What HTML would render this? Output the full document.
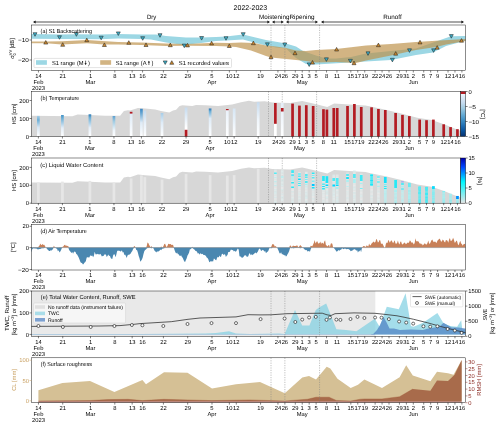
<!DOCTYPE html>
<html><head><meta charset="utf-8"><style>
html,body{margin:0;padding:0;background:#fff;width:500px;height:427px;overflow:hidden}
svg{display:block;will-change:transform}
text{font-family:"Liberation Sans", sans-serif;text-rendering:geometricPrecision}
</style></head><body>
<svg width="500" height="427" viewBox="0 0 500 427" font-family='"Liberation Sans", sans-serif'>
<defs><linearGradient id="g1" x1="0" y1="0" x2="0" y2="1"><stop offset="0" stop-color="#a6cde6"/><stop offset="0.2" stop-color="#6baed6"/><stop offset="0.55" stop-color="#d6e6f4"/><stop offset="1" stop-color="#ffffff"/></linearGradient><linearGradient id="g2" x1="0" y1="0" x2="0" y2="1"><stop offset="0" stop-color="#4292c6"/><stop offset="0.15" stop-color="#6baed6"/><stop offset="0.6" stop-color="#e4eef8"/><stop offset="1" stop-color="#ffffff"/></linearGradient><linearGradient id="g3" x1="0" y1="0" x2="0" y2="1"><stop offset="0" stop-color="#2c7bb6"/><stop offset="0.15" stop-color="#6baed6"/><stop offset="0.6" stop-color="#e4eef8"/><stop offset="1" stop-color="#ffffff"/></linearGradient><linearGradient id="g4" x1="0" y1="0" x2="0" y2="1"><stop offset="0" stop-color="#5a9fd0"/><stop offset="0.25" stop-color="#9ecae1"/><stop offset="0.7" stop-color="#eef5fb"/><stop offset="1" stop-color="#ffffff"/></linearGradient><linearGradient id="g5" x1="0" y1="0" x2="0" y2="1"><stop offset="0" stop-color="#dbe9f6"/><stop offset="1" stop-color="#ffffff"/></linearGradient><linearGradient id="g6" x1="0" y1="0" x2="0" y2="1"><stop offset="0" stop-color="#3b87c4"/><stop offset="0.12" stop-color="#5a9fd0"/><stop offset="0.5" stop-color="#deebf7"/><stop offset="1" stop-color="#ffffff"/></linearGradient><linearGradient id="g7" x1="0" y1="0" x2="0" y2="1"><stop offset="0" stop-color="#c6dbef"/><stop offset="0.5" stop-color="#e8f1fa"/><stop offset="1" stop-color="#ffffff"/></linearGradient><linearGradient id="g8" x1="0" y1="0" x2="0" y2="1"><stop offset="0" stop-color="#a6cde8"/><stop offset="0.4" stop-color="#deebf7"/><stop offset="1" stop-color="#ffffff"/></linearGradient><linearGradient id="g9" x1="0" y1="0" x2="0" y2="1"><stop offset="0" stop-color="#c6dbef"/><stop offset="0.7" stop-color="#ffffff"/><stop offset="1" stop-color="#ffffff"/></linearGradient><linearGradient id="g10" x1="0" y1="0" x2="0" y2="1"><stop offset="0" stop-color="#2171b5"/><stop offset="0.1" stop-color="#6baed6"/><stop offset="0.35" stop-color="#deebf7"/><stop offset="1" stop-color="#ffffff"/></linearGradient><linearGradient id="g11" x1="0" y1="0" x2="0" y2="1"><stop offset="0" stop-color="#e8f1fa"/><stop offset="1" stop-color="#ffffff"/></linearGradient><linearGradient id="g12" x1="0" y1="0" x2="0" y2="1"><stop offset="0" stop-color="#d6e6f4"/><stop offset="1" stop-color="#ffffff"/></linearGradient><linearGradient id="g13" x1="0" y1="0" x2="0" y2="1"><stop offset="0" stop-color="#c6dbef"/><stop offset="0.5" stop-color="#eef5fb"/><stop offset="1" stop-color="#ffffff"/></linearGradient><linearGradient id="g14" x1="0" y1="0" x2="0" y2="1"><stop offset="0" stop-color="#ffffff"/><stop offset="1" stop-color="#ffffff"/></linearGradient><linearGradient id="g15" x1="0" y1="0" x2="0" y2="1"><stop offset="0" stop-color="#e4eef8"/><stop offset="1" stop-color="#ffffff"/></linearGradient><linearGradient id="g16" x1="0" y1="0" x2="0" y2="1"><stop offset="0" stop-color="#f7fbff"/><stop offset="0.125" stop-color="#deebf7"/><stop offset="0.25" stop-color="#c6dbef"/><stop offset="0.375" stop-color="#9ecae1"/><stop offset="0.5" stop-color="#6baed6"/><stop offset="0.625" stop-color="#4292c6"/><stop offset="0.75" stop-color="#2171b5"/><stop offset="0.875" stop-color="#08519c"/><stop offset="1" stop-color="#08306b"/></linearGradient><linearGradient id="g17" x1="0" y1="0" x2="0" y2="1"><stop offset="0" stop-color="#0000aa"/><stop offset="0.2" stop-color="#0046ff"/><stop offset="0.53" stop-color="#00faff"/><stop offset="1" stop-color="#e4e4e4"/></linearGradient></defs>
<rect width="500" height="427" fill="#fff"/>
<text x="250.4" y="10.2" font-size="7" text-anchor="middle" textLength="33.6" lengthAdjust="spacingAndGlyphs">2022-2023</text>
<line x1="34.50" y1="22.0" x2="268.50" y2="22.0" stroke="#8a8a8a" stroke-width="1.3"/>
<polygon points="33.00,22.0 35.60,20.6 35.60,23.4" fill="#111"/>
<polygon points="270.00,22.0 267.40,20.6 267.40,23.4" fill="#111"/>
<line x1="273.50" y1="22.0" x2="282.30" y2="22.0" stroke="#8a8a8a" stroke-width="1.3"/>
<polygon points="272.00,22.0 274.60,20.6 274.60,23.4" fill="#111"/>
<polygon points="283.80,22.0 281.20,20.6 281.20,23.4" fill="#111"/>
<line x1="287.50" y1="22.0" x2="316.50" y2="22.0" stroke="#8a8a8a" stroke-width="1.3"/>
<polygon points="286.00,22.0 288.60,20.6 288.60,23.4" fill="#111"/>
<polygon points="318.00,22.0 315.40,20.6 315.40,23.4" fill="#111"/>
<line x1="322.50" y1="22.0" x2="462.50" y2="22.0" stroke="#8a8a8a" stroke-width="1.3"/>
<polygon points="321.00,22.0 323.60,20.6 323.60,23.4" fill="#111"/>
<polygon points="464.00,22.0 461.40,20.6 461.40,23.4" fill="#111"/>
<text x="151.6" y="18.7" font-size="6.2" text-anchor="middle" textLength="9.3" lengthAdjust="spacingAndGlyphs">Dry</text>
<text x="274.2" y="18.6" font-size="6.3" text-anchor="middle" textLength="30.4" lengthAdjust="spacingAndGlyphs">Moistening</text>
<text x="302.0" y="18.6" font-size="6.3" text-anchor="middle" textLength="25.2" lengthAdjust="spacingAndGlyphs">Ripening</text>
<text x="392.5" y="18.6" font-size="6.3" text-anchor="middle">Runoff</text>
<polygon points="31.50,34.00 60.00,34.60 77.00,34.20 100.00,34.60 118.00,34.00 142.00,34.50 156.00,34.50 166.00,36.00 186.00,37.50 201.00,37.50 216.00,37.00 226.00,36.50 243.00,34.50 266.00,40.00 286.00,43.50 296.00,46.50 303.00,51.00 316.00,55.50 326.00,58.50 336.00,58.50 351.00,57.00 366.00,53.50 391.00,51.00 416.00,48.50 451.00,36.30 465.40,36.00 465.40,40.80 446.00,46.00 433.00,52.50 416.00,55.00 391.00,60.00 366.00,61.50 316.00,64.50 306.00,64.00 296.00,58.00 286.00,48.50 276.00,47.50 266.00,45.50 254.00,42.50 243.00,39.50 226.00,40.50 216.00,41.00 201.00,43.00 184.00,45.00 166.00,42.50 151.00,39.50 142.00,39.00 118.00,38.60 100.00,39.20 77.00,39.00 60.00,39.00 31.50,38.80" fill="#9cd7e4" />
<polygon points="31.50,41.60 46.00,41.40 62.00,41.20 87.00,40.00 118.00,42.00 141.00,42.50 166.00,43.50 186.00,44.00 216.00,42.80 229.00,43.00 241.00,42.50 254.00,43.00 266.00,45.50 276.00,46.50 286.00,48.00 296.00,50.50 306.00,51.00 316.00,50.00 336.00,49.00 366.00,45.50 391.00,44.00 416.00,42.00 440.00,40.50 465.40,39.00 465.40,41.00 446.00,44.50 436.00,47.00 416.00,50.00 391.00,55.50 366.00,60.50 356.00,63.00 336.00,62.00 316.00,62.50 306.00,61.00 296.00,60.00 286.00,59.00 271.00,57.50 266.00,56.00 251.00,50.50 236.00,47.00 229.00,46.50 216.00,46.00 186.00,45.80 166.00,46.00 141.00,45.00 118.00,44.50 104.00,44.50 87.00,43.20 62.00,44.40 46.00,43.30 31.50,43.20" fill="rgb(189,145,72)" fill-opacity="0.68"/>
<line x1="271.00" y1="25.00" x2="271.00" y2="70.50" stroke="#808080" stroke-width="0.5" stroke-dasharray="1.2,1.2"/>
<line x1="284.88" y1="25.00" x2="284.88" y2="70.50" stroke="#808080" stroke-width="0.5" stroke-dasharray="1.2,1.2"/>
<line x1="319.59" y1="25.00" x2="319.59" y2="70.50" stroke="#808080" stroke-width="0.5" stroke-dasharray="1.2,1.2"/>
<polygon points="33.00,32.70 37.00,32.70 35.00,36.30" fill="#3aaac4" stroke="#1a1a1a" stroke-width="0.5"/>
<polygon points="57.50,35.70 61.50,35.70 59.50,39.30" fill="#3aaac4" stroke="#1a1a1a" stroke-width="0.5"/>
<polygon points="74.40,32.70 78.40,32.70 76.40,36.30" fill="#3aaac4" stroke="#1a1a1a" stroke-width="0.5"/>
<polygon points="99.20,36.20 103.20,36.20 101.20,39.80" fill="#3aaac4" stroke="#1a1a1a" stroke-width="0.5"/>
<polygon points="116.30,31.90 120.30,31.90 118.30,35.50" fill="#3aaac4" stroke="#1a1a1a" stroke-width="0.5"/>
<polygon points="140.70,36.70 144.70,36.70 142.70,40.30" fill="#3aaac4" stroke="#1a1a1a" stroke-width="0.5"/>
<polygon points="158.00,33.70 162.00,33.70 160.00,37.30" fill="#3aaac4" stroke="#1a1a1a" stroke-width="0.5"/>
<polygon points="182.30,44.10 186.30,44.10 184.30,47.70" fill="#3aaac4" stroke="#1a1a1a" stroke-width="0.5"/>
<polygon points="199.60,36.50 203.60,36.50 201.60,40.10" fill="#3aaac4" stroke="#1a1a1a" stroke-width="0.5"/>
<polygon points="224.00,36.70 228.00,36.70 226.00,40.30" fill="#3aaac4" stroke="#1a1a1a" stroke-width="0.5"/>
<polygon points="241.20,32.70 245.20,32.70 243.20,36.30" fill="#3aaac4" stroke="#1a1a1a" stroke-width="0.5"/>
<polygon points="265.40,42.80 269.40,42.80 267.40,46.40" fill="#3aaac4" stroke="#1a1a1a" stroke-width="0.5"/>
<polygon points="282.80,42.90 286.80,42.90 284.80,46.50" fill="#3aaac4" stroke="#1a1a1a" stroke-width="0.5"/>
<polygon points="307.20,62.90 311.20,62.90 309.20,66.50" fill="#3aaac4" stroke="#1a1a1a" stroke-width="0.5"/>
<polygon points="324.40,57.80 328.40,57.80 326.40,61.40" fill="#3aaac4" stroke="#1a1a1a" stroke-width="0.5"/>
<polygon points="348.40,59.30 352.40,59.30 350.40,62.90" fill="#3aaac4" stroke="#1a1a1a" stroke-width="0.5"/>
<polygon points="366.00,51.80 370.00,51.80 368.00,55.40" fill="#3aaac4" stroke="#1a1a1a" stroke-width="0.5"/>
<polygon points="390.40,58.30 394.40,58.30 392.40,61.90" fill="#3aaac4" stroke="#1a1a1a" stroke-width="0.5"/>
<polygon points="407.50,48.80 411.50,48.80 409.50,52.40" fill="#3aaac4" stroke="#1a1a1a" stroke-width="0.5"/>
<polygon points="431.60,48.80 435.60,48.80 433.60,52.40" fill="#3aaac4" stroke="#1a1a1a" stroke-width="0.5"/>
<polygon points="449.30,34.60 453.30,34.60 451.30,38.20" fill="#3aaac4" stroke="#1a1a1a" stroke-width="0.5"/>
<polygon points="43.75,44.10 47.75,44.10 45.75,40.50" fill="#c8862e" stroke="#1a1a1a" stroke-width="0.5"/>
<polygon points="60.70,46.30 64.70,46.30 62.70,42.70" fill="#c8862e" stroke="#1a1a1a" stroke-width="0.5"/>
<polygon points="84.80,41.70 88.80,41.70 86.80,38.10" fill="#c8862e" stroke="#1a1a1a" stroke-width="0.5"/>
<polygon points="102.40,46.50 106.40,46.50 104.40,42.90" fill="#c8862e" stroke="#1a1a1a" stroke-width="0.5"/>
<polygon points="126.80,44.30 130.80,44.30 128.80,40.70" fill="#c8862e" stroke="#1a1a1a" stroke-width="0.5"/>
<polygon points="144.00,46.50 148.00,46.50 146.00,42.90" fill="#c8862e" stroke="#1a1a1a" stroke-width="0.5"/>
<polygon points="168.30,46.70 172.30,46.70 170.30,43.10" fill="#c8862e" stroke="#1a1a1a" stroke-width="0.5"/>
<polygon points="185.50,46.90 189.50,46.90 187.50,43.30" fill="#c8862e" stroke="#1a1a1a" stroke-width="0.5"/>
<polygon points="209.60,44.90 213.60,44.90 211.60,41.30" fill="#c8862e" stroke="#1a1a1a" stroke-width="0.5"/>
<polygon points="227.30,47.50 231.30,47.50 229.30,43.90" fill="#c8862e" stroke="#1a1a1a" stroke-width="0.5"/>
<polygon points="251.40,44.70 255.40,44.70 253.40,41.10" fill="#c8862e" stroke="#1a1a1a" stroke-width="0.5"/>
<polygon points="269.00,58.70 273.00,58.70 271.00,55.10" fill="#c8862e" stroke="#1a1a1a" stroke-width="0.5"/>
<polygon points="293.00,54.70 297.00,54.70 295.00,51.10" fill="#c8862e" stroke="#1a1a1a" stroke-width="0.5"/>
<polygon points="310.50,64.10 314.50,64.10 312.50,60.50" fill="#c8862e" stroke="#1a1a1a" stroke-width="0.5"/>
<polygon points="334.60,51.00 338.60,51.00 336.60,47.40" fill="#c8862e" stroke="#1a1a1a" stroke-width="0.5"/>
<polygon points="352.00,64.70 356.00,64.70 354.00,61.10" fill="#c8862e" stroke="#1a1a1a" stroke-width="0.5"/>
<polygon points="376.40,46.70 380.40,46.70 378.40,43.10" fill="#c8862e" stroke="#1a1a1a" stroke-width="0.5"/>
<polygon points="393.70,55.20 397.70,55.20 395.70,51.60" fill="#c8862e" stroke="#1a1a1a" stroke-width="0.5"/>
<polygon points="418.00,43.90 422.00,43.90 420.00,40.30" fill="#c8862e" stroke="#1a1a1a" stroke-width="0.5"/>
<polygon points="435.20,49.20 439.20,49.20 437.20,45.60" fill="#c8862e" stroke="#1a1a1a" stroke-width="0.5"/>
<polygon points="459.50,42.20 463.50,42.20 461.50,38.60" fill="#c8862e" stroke="#1a1a1a" stroke-width="0.5"/>
<text x="40.6" y="33.3" font-size="5.8" textLength="51.5" lengthAdjust="spacingAndGlyphs">(a) S1 Backscattering</text>
<rect x="34.0" y="58.4" width="197.5" height="9.2" rx="1" fill="#fff" fill-opacity="0.85" stroke="#d0d0d0" stroke-width="0.6"/>
<rect x="36.0" y="60.2" width="10.9" height="4.6" fill="#9cd7e4"/>
<text x="52" y="65.0" font-size="5.8" textLength="31.6" lengthAdjust="spacingAndGlyphs">S1 range (M</text>
<line x1="85.6" y1="60.7" x2="85.6" y2="63.8" stroke="#000" stroke-width="0.6"/>
<polygon points="84.5,63.2 86.69999999999999,63.2 85.6,65.0" fill="#000"/>
<text x="88.0" y="65.0" font-size="5.8">)</text>
<rect x="100.2" y="60.2" width="10.9" height="4.6" fill="rgb(189,145,72)" fill-opacity="0.68"/>
<text x="115.7" y="65.0" font-size="5.8" textLength="30.8" lengthAdjust="spacingAndGlyphs">S1 range (A</text>
<line x1="148.9" y1="61.900000000000006" x2="148.9" y2="65.0" stroke="#000" stroke-width="0.6"/>
<polygon points="147.8,62.5 150.0,62.5 148.9,60.7" fill="#000"/>
<text x="151.4" y="65.0" font-size="5.8">)</text>
<polygon points="163.20,60.90 167.20,60.90 165.20,64.50" fill="#3aaac4" stroke="#1a1a1a" stroke-width="0.5"/>
<polygon points="169.80,64.30 173.80,64.30 171.80,60.70" fill="#c8862e" stroke="#1a1a1a" stroke-width="0.5"/>
<text x="178.8" y="65.0" font-size="5.8" textLength="50.2" lengthAdjust="spacingAndGlyphs">S1 recorded values</text>
<rect x="31.50" y="25.00" width="433.90" height="45.50" fill="none" stroke="#000" stroke-width="0.45"/>
<line x1="29.50" y1="40.00" x2="31.50" y2="40.00" stroke="#000" stroke-width="0.5"/>
<text x="28.90" y="42.10" font-size="5.8" text-anchor="end" fill="#000"  textLength="10.76" lengthAdjust="spacingAndGlyphs">−10</text>
<line x1="29.50" y1="60.00" x2="31.50" y2="60.00" stroke="#000" stroke-width="0.5"/>
<text x="28.90" y="62.10" font-size="5.8" text-anchor="end" fill="#000"  textLength="10.76" lengthAdjust="spacingAndGlyphs">−20</text>
<line x1="38.44" y1="70.50" x2="38.44" y2="72.50" stroke="#000" stroke-width="0.5"/>
<text x="38.44" y="77.60" font-size="5.8" text-anchor="middle" fill="#000" >14</text>
<text x="38.44" y="83.60" font-size="5.8" text-anchor="middle" fill="#000" >Feb</text>
<text x="38.44" y="89.60" font-size="5.8" text-anchor="middle" fill="#000" >2023</text>
<line x1="62.74" y1="70.50" x2="62.74" y2="72.50" stroke="#000" stroke-width="0.5"/>
<text x="62.74" y="77.60" font-size="5.8" text-anchor="middle" fill="#000" >21</text>
<line x1="90.51" y1="70.50" x2="90.51" y2="72.50" stroke="#000" stroke-width="0.5"/>
<text x="90.51" y="77.60" font-size="5.8" text-anchor="middle" fill="#000" >1</text>
<text x="90.51" y="83.60" font-size="5.8" text-anchor="middle" fill="#000" >Mar</text>
<line x1="114.80" y1="70.50" x2="114.80" y2="72.50" stroke="#000" stroke-width="0.5"/>
<text x="114.80" y="77.60" font-size="5.8" text-anchor="middle" fill="#000" >8</text>
<line x1="132.16" y1="70.50" x2="132.16" y2="72.50" stroke="#000" stroke-width="0.5"/>
<text x="132.16" y="77.60" font-size="5.8" text-anchor="middle" fill="#000" >13</text>
<line x1="142.57" y1="70.50" x2="142.57" y2="72.50" stroke="#000" stroke-width="0.5"/>
<text x="142.57" y="77.60" font-size="5.8" text-anchor="middle" fill="#000" >16</text>
<line x1="163.40" y1="70.50" x2="163.40" y2="72.50" stroke="#000" stroke-width="0.5"/>
<text x="163.40" y="77.60" font-size="5.8" text-anchor="middle" fill="#000" >22</text>
<line x1="187.69" y1="70.50" x2="187.69" y2="72.50" stroke="#000" stroke-width="0.5"/>
<text x="187.69" y="77.60" font-size="5.8" text-anchor="middle" fill="#000" >29</text>
<line x1="211.99" y1="70.50" x2="211.99" y2="72.50" stroke="#000" stroke-width="0.5"/>
<text x="211.99" y="77.60" font-size="5.8" text-anchor="middle" fill="#000" >5</text>
<text x="211.99" y="83.60" font-size="5.8" text-anchor="middle" fill="#000" >Apr</text>
<line x1="229.35" y1="70.50" x2="229.35" y2="72.50" stroke="#000" stroke-width="0.5"/>
<text x="229.35" y="77.60" font-size="5.8" text-anchor="middle" fill="#000" >10</text>
<line x1="236.29" y1="70.50" x2="236.29" y2="72.50" stroke="#000" stroke-width="0.5"/>
<text x="236.29" y="77.60" font-size="5.8" text-anchor="middle" fill="#000" >12</text>
<line x1="260.59" y1="70.50" x2="260.59" y2="72.50" stroke="#000" stroke-width="0.5"/>
<text x="260.59" y="77.60" font-size="5.8" text-anchor="middle" fill="#000" >19</text>
<line x1="277.94" y1="70.50" x2="277.94" y2="72.50" stroke="#000" stroke-width="0.5"/>
<text x="277.94" y="77.60" font-size="5.8" text-anchor="middle" fill="#000" >24</text>
<line x1="284.88" y1="70.50" x2="284.88" y2="72.50" stroke="#000" stroke-width="0.5"/>
<text x="284.88" y="77.60" font-size="5.8" text-anchor="middle" fill="#000" >26</text>
<line x1="295.30" y1="70.50" x2="295.30" y2="72.50" stroke="#000" stroke-width="0.5"/>
<text x="295.30" y="77.60" font-size="5.8" text-anchor="middle" fill="#000" >29</text>
<line x1="302.24" y1="70.50" x2="302.24" y2="72.50" stroke="#000" stroke-width="0.5"/>
<text x="302.24" y="77.60" font-size="5.8" text-anchor="middle" fill="#000" >1</text>
<text x="302.24" y="83.60" font-size="5.8" text-anchor="middle" fill="#000" >May</text>
<line x1="309.18" y1="70.50" x2="309.18" y2="72.50" stroke="#000" stroke-width="0.5"/>
<text x="309.18" y="77.60" font-size="5.8" text-anchor="middle" fill="#000" >3</text>
<line x1="316.12" y1="70.50" x2="316.12" y2="72.50" stroke="#000" stroke-width="0.5"/>
<text x="316.12" y="77.60" font-size="5.8" text-anchor="middle" fill="#000" >5</text>
<line x1="326.54" y1="70.50" x2="326.54" y2="72.50" stroke="#000" stroke-width="0.5"/>
<text x="326.54" y="77.60" font-size="5.8" text-anchor="middle" fill="#000" >8</text>
<line x1="336.95" y1="70.50" x2="336.95" y2="72.50" stroke="#000" stroke-width="0.5"/>
<text x="336.95" y="77.60" font-size="5.8" text-anchor="middle" fill="#000" >11</text>
<line x1="350.83" y1="70.50" x2="350.83" y2="72.50" stroke="#000" stroke-width="0.5"/>
<text x="350.83" y="77.60" font-size="5.8" text-anchor="middle" fill="#000" >15</text>
<line x1="357.77" y1="70.50" x2="357.77" y2="72.50" stroke="#000" stroke-width="0.5"/>
<text x="357.77" y="77.60" font-size="5.8" text-anchor="middle" fill="#000" >17</text>
<line x1="364.72" y1="70.50" x2="364.72" y2="72.50" stroke="#000" stroke-width="0.5"/>
<text x="364.72" y="77.60" font-size="5.8" text-anchor="middle" fill="#000" >19</text>
<line x1="375.13" y1="70.50" x2="375.13" y2="72.50" stroke="#000" stroke-width="0.5"/>
<text x="375.13" y="77.60" font-size="5.8" text-anchor="middle" fill="#000" >22</text>
<line x1="382.07" y1="70.50" x2="382.07" y2="72.50" stroke="#000" stroke-width="0.5"/>
<text x="382.07" y="77.60" font-size="5.8" text-anchor="middle" fill="#000" >24</text>
<line x1="389.01" y1="70.50" x2="389.01" y2="72.50" stroke="#000" stroke-width="0.5"/>
<text x="389.01" y="77.60" font-size="5.8" text-anchor="middle" fill="#000" >26</text>
<line x1="399.43" y1="70.50" x2="399.43" y2="72.50" stroke="#000" stroke-width="0.5"/>
<text x="399.43" y="77.60" font-size="5.8" text-anchor="middle" fill="#000" >29</text>
<line x1="406.37" y1="70.50" x2="406.37" y2="72.50" stroke="#000" stroke-width="0.5"/>
<text x="406.37" y="77.60" font-size="5.8" text-anchor="middle" fill="#000" >31</text>
<line x1="413.31" y1="70.50" x2="413.31" y2="72.50" stroke="#000" stroke-width="0.5"/>
<text x="413.31" y="77.60" font-size="5.8" text-anchor="middle" fill="#000" >2</text>
<text x="413.31" y="83.60" font-size="5.8" text-anchor="middle" fill="#000" >Jun</text>
<line x1="423.72" y1="70.50" x2="423.72" y2="72.50" stroke="#000" stroke-width="0.5"/>
<text x="423.72" y="77.60" font-size="5.8" text-anchor="middle" fill="#000" >5</text>
<line x1="430.67" y1="70.50" x2="430.67" y2="72.50" stroke="#000" stroke-width="0.5"/>
<text x="430.67" y="77.60" font-size="5.8" text-anchor="middle" fill="#000" >7</text>
<line x1="437.61" y1="70.50" x2="437.61" y2="72.50" stroke="#000" stroke-width="0.5"/>
<text x="437.61" y="77.60" font-size="5.8" text-anchor="middle" fill="#000" >9</text>
<line x1="448.02" y1="70.50" x2="448.02" y2="72.50" stroke="#000" stroke-width="0.5"/>
<text x="448.02" y="77.60" font-size="5.8" text-anchor="middle" fill="#000" >12</text>
<line x1="454.96" y1="70.50" x2="454.96" y2="72.50" stroke="#000" stroke-width="0.5"/>
<text x="454.96" y="77.60" font-size="5.8" text-anchor="middle" fill="#000" >14</text>
<line x1="461.90" y1="70.50" x2="461.90" y2="72.50" stroke="#000" stroke-width="0.5"/>
<text x="461.90" y="77.60" font-size="5.8" text-anchor="middle" fill="#000" >16</text>
<text transform="translate(14.2,48.5) rotate(-90)" font-size="5.8" text-anchor="middle">σ<tspan font-size="4" dy="-2">VV</tspan><tspan font-size="4" dx="-5.5" dy="4">0</tspan><tspan dy="-2" dx="3"> [dB]</tspan></text>
<polygon points="31.50,136.50 31.50,115.80 72.38,116.25 77.53,114.54 89.90,115.08 105.01,115.80 120.12,115.80 123.90,110.94 128.02,110.22 130.08,110.58 137.99,107.88 145.20,108.60 155.16,109.50 161.00,110.94 169.24,112.56 173.02,110.58 176.11,109.86 179.55,106.08 182.30,105.18 192.26,105.90 196.04,105.00 205.31,105.18 218.02,105.90 232.10,104.46 241.03,102.30 248.94,100.86 254.09,101.76 264.74,101.22 272.29,102.48 290.16,103.02 302.18,101.04 313.17,103.56 327.25,106.98 334.12,103.56 349.24,104.46 365.38,105.54 370.53,106.62 386.68,110.04 401.11,113.46 417.25,117.78 431.68,120.12 444.04,124.26 456.41,129.30 460.60,130.74 460.60,136.50" fill="#d7d7d7" />
<line x1="268.51" y1="91.50" x2="268.51" y2="136.50" stroke="#808080" stroke-width="0.5" stroke-dasharray="1.2,1.2"/>
<line x1="282.25" y1="91.50" x2="282.25" y2="136.50" stroke="#808080" stroke-width="0.5" stroke-dasharray="1.2,1.2"/>
<line x1="316.61" y1="91.50" x2="316.61" y2="136.50" stroke="#808080" stroke-width="0.5" stroke-dasharray="1.2,1.2"/>
<rect x="37.02" y="115.90" width="2.7" height="20.60" fill="url(#g1)"/>
<rect x="61.06" y="115.00" width="2.7" height="21.50" fill="url(#g2)"/>
<rect x="88.55" y="114.30" width="2.7" height="22.20" fill="url(#g3)"/>
<rect x="112.59" y="116.00" width="2.7" height="20.50" fill="url(#g4)"/>
<rect x="129.77" y="111.80" width="2.7" height="24.70" fill="url(#g5)"/>
<rect x="129.77" y="111.80" width="2.7" height="1.80" fill="#b31b22"/>
<rect x="140.07" y="108.80" width="2.7" height="27.70" fill="url(#g6)"/>
<rect x="143.51" y="110.50" width="2.7" height="26.00" fill="url(#g7)"/>
<rect x="160.68" y="113.00" width="2.7" height="23.50" fill="url(#g8)"/>
<rect x="184.72" y="107.50" width="2.7" height="29.00" fill="url(#g9)"/>
<rect x="184.72" y="129.80" width="2.7" height="6.70" fill="#b31b22"/>
<rect x="208.77" y="108.50" width="2.7" height="28.00" fill="url(#g10)"/>
<rect x="225.95" y="109.00" width="2.7" height="27.50" fill="url(#g11)"/>
<rect x="225.95" y="109.00" width="2.7" height="1.20" fill="#b31b22"/>
<rect x="232.81" y="108.50" width="2.7" height="28.00" fill="url(#g12)"/>
<rect x="256.86" y="102.20" width="2.7" height="34.30" fill="url(#g13)"/>
<rect x="274.03" y="103.00" width="2.7" height="33.50" fill="url(#g14)"/>
<rect x="274.03" y="103.00" width="2.7" height="20.80" fill="#b31b22"/>
<rect x="280.90" y="103.00" width="2.7" height="33.50" fill="url(#g15)"/>
<rect x="280.90" y="108.00" width="2.7" height="3.50" fill="#b31b22"/>
<rect x="291.21" y="103.60" width="2.7" height="32.90" fill="#b31b22"/>
<rect x="298.08" y="105.60" width="2.7" height="30.90" fill="#b31b22"/>
<rect x="304.95" y="105.20" width="2.7" height="31.30" fill="#b31b22"/>
<rect x="311.82" y="106.00" width="2.7" height="30.50" fill="#b31b22"/>
<rect x="322.12" y="109.20" width="2.7" height="27.30" fill="#b31b22"/>
<rect x="325.56" y="109.60" width="2.7" height="26.90" fill="#b31b22"/>
<rect x="332.43" y="108.00" width="2.7" height="28.50" fill="#b31b22"/>
<rect x="335.87" y="108.00" width="2.7" height="28.50" fill="#b31b22"/>
<rect x="346.17" y="106.00" width="2.7" height="30.50" fill="#b31b22"/>
<rect x="353.04" y="104.00" width="2.7" height="32.50" fill="#b31b22"/>
<rect x="359.91" y="107.00" width="2.7" height="29.50" fill="#b31b22"/>
<rect x="370.21" y="107.30" width="2.7" height="29.20" fill="#b31b22"/>
<rect x="377.08" y="109.00" width="2.7" height="27.50" fill="#b31b22"/>
<rect x="383.95" y="110.00" width="2.7" height="26.50" fill="#b31b22"/>
<rect x="394.26" y="113.00" width="2.7" height="23.50" fill="#b31b22"/>
<rect x="401.13" y="114.90" width="2.7" height="21.60" fill="#b31b22"/>
<rect x="408.00" y="116.10" width="2.7" height="20.40" fill="#b31b22"/>
<rect x="418.31" y="119.60" width="2.7" height="16.90" fill="#b31b22"/>
<rect x="425.18" y="120.20" width="2.7" height="16.30" fill="#b31b22"/>
<rect x="432.04" y="119.60" width="2.7" height="16.90" fill="#b31b22"/>
<rect x="442.35" y="124.30" width="2.7" height="12.20" fill="#b31b22"/>
<rect x="449.22" y="127.10" width="2.7" height="9.40" fill="#b31b22"/>
<rect x="456.09" y="129.20" width="2.7" height="7.30" fill="#b31b22"/>
<text x="40.6" y="99.9" font-size="5.8" textLength="38.8" lengthAdjust="spacingAndGlyphs">(b) Temperature</text>
<rect x="31.50" y="91.50" width="429.10" height="45.00" fill="none" stroke="#000" stroke-width="0.45"/>
<rect x="460.6" y="91.5" width="5.00" height="45.00" fill="url(#g16)"/>
<rect x="460.6" y="91.5" width="5.00" height="2.5" fill="#b31b22"/>
<rect x="460.60" y="91.50" width="5.00" height="45.00" fill="none" stroke="#000" stroke-width="0.45"/>
<line x1="465.60" y1="91.50" x2="467.60" y2="91.50" stroke="#000" stroke-width="0.5"/>
<text x="468.40" y="93.60" font-size="5.8" text-anchor="start" fill="#000" >0</text>
<line x1="465.60" y1="106.50" x2="467.60" y2="106.50" stroke="#000" stroke-width="0.5"/>
<text x="468.40" y="108.60" font-size="5.8" text-anchor="start" fill="#000"  textLength="7.52" lengthAdjust="spacingAndGlyphs">−5</text>
<line x1="465.60" y1="121.50" x2="467.60" y2="121.50" stroke="#000" stroke-width="0.5"/>
<text x="468.40" y="123.60" font-size="5.8" text-anchor="start" fill="#000"  textLength="10.76" lengthAdjust="spacingAndGlyphs">−10</text>
<line x1="465.60" y1="136.50" x2="467.60" y2="136.50" stroke="#000" stroke-width="0.5"/>
<text x="468.40" y="138.60" font-size="5.8" text-anchor="start" fill="#000"  textLength="10.76" lengthAdjust="spacingAndGlyphs">−15</text>
<text transform="translate(481.0,114.00) rotate(90)" font-size="5.8" text-anchor="middle">[°C]</text>
<line x1="29.50" y1="136.50" x2="31.50" y2="136.50" stroke="#000" stroke-width="0.5"/>
<text x="28.90" y="138.60" font-size="5.8" text-anchor="end" fill="#000" >0</text>
<line x1="29.50" y1="118.50" x2="31.50" y2="118.50" stroke="#000" stroke-width="0.5"/>
<text x="28.90" y="120.60" font-size="5.8" text-anchor="end" fill="#000" >100</text>
<line x1="29.50" y1="100.50" x2="31.50" y2="100.50" stroke="#000" stroke-width="0.5"/>
<text x="28.90" y="102.60" font-size="5.8" text-anchor="end" fill="#000" >200</text>
<line x1="38.37" y1="136.50" x2="38.37" y2="138.50" stroke="#000" stroke-width="0.5"/>
<text x="38.37" y="144.10" font-size="5.8" text-anchor="middle" fill="#000" >14</text>
<text x="38.37" y="150.10" font-size="5.8" text-anchor="middle" fill="#000" >Feb</text>
<text x="38.37" y="156.10" font-size="5.8" text-anchor="middle" fill="#000" >2023</text>
<line x1="62.41" y1="136.50" x2="62.41" y2="138.50" stroke="#000" stroke-width="0.5"/>
<text x="62.41" y="144.10" font-size="5.8" text-anchor="middle" fill="#000" >21</text>
<line x1="89.90" y1="136.50" x2="89.90" y2="138.50" stroke="#000" stroke-width="0.5"/>
<text x="89.90" y="144.10" font-size="5.8" text-anchor="middle" fill="#000" >1</text>
<text x="89.90" y="150.10" font-size="5.8" text-anchor="middle" fill="#000" >Mar</text>
<line x1="113.94" y1="136.50" x2="113.94" y2="138.50" stroke="#000" stroke-width="0.5"/>
<text x="113.94" y="144.10" font-size="5.8" text-anchor="middle" fill="#000" >8</text>
<line x1="131.12" y1="136.50" x2="131.12" y2="138.50" stroke="#000" stroke-width="0.5"/>
<text x="131.12" y="144.10" font-size="5.8" text-anchor="middle" fill="#000" >13</text>
<line x1="141.42" y1="136.50" x2="141.42" y2="138.50" stroke="#000" stroke-width="0.5"/>
<text x="141.42" y="144.10" font-size="5.8" text-anchor="middle" fill="#000" >16</text>
<line x1="162.03" y1="136.50" x2="162.03" y2="138.50" stroke="#000" stroke-width="0.5"/>
<text x="162.03" y="144.10" font-size="5.8" text-anchor="middle" fill="#000" >22</text>
<line x1="186.07" y1="136.50" x2="186.07" y2="138.50" stroke="#000" stroke-width="0.5"/>
<text x="186.07" y="144.10" font-size="5.8" text-anchor="middle" fill="#000" >29</text>
<line x1="210.12" y1="136.50" x2="210.12" y2="138.50" stroke="#000" stroke-width="0.5"/>
<text x="210.12" y="144.10" font-size="5.8" text-anchor="middle" fill="#000" >5</text>
<text x="210.12" y="150.10" font-size="5.8" text-anchor="middle" fill="#000" >Apr</text>
<line x1="227.30" y1="136.50" x2="227.30" y2="138.50" stroke="#000" stroke-width="0.5"/>
<text x="227.30" y="144.10" font-size="5.8" text-anchor="middle" fill="#000" >10</text>
<line x1="234.16" y1="136.50" x2="234.16" y2="138.50" stroke="#000" stroke-width="0.5"/>
<text x="234.16" y="144.10" font-size="5.8" text-anchor="middle" fill="#000" >12</text>
<line x1="258.21" y1="136.50" x2="258.21" y2="138.50" stroke="#000" stroke-width="0.5"/>
<text x="258.21" y="144.10" font-size="5.8" text-anchor="middle" fill="#000" >19</text>
<line x1="275.38" y1="136.50" x2="275.38" y2="138.50" stroke="#000" stroke-width="0.5"/>
<text x="275.38" y="144.10" font-size="5.8" text-anchor="middle" fill="#000" >24</text>
<line x1="282.25" y1="136.50" x2="282.25" y2="138.50" stroke="#000" stroke-width="0.5"/>
<text x="282.25" y="144.10" font-size="5.8" text-anchor="middle" fill="#000" >26</text>
<line x1="292.56" y1="136.50" x2="292.56" y2="138.50" stroke="#000" stroke-width="0.5"/>
<text x="292.56" y="144.10" font-size="5.8" text-anchor="middle" fill="#000" >29</text>
<line x1="299.43" y1="136.50" x2="299.43" y2="138.50" stroke="#000" stroke-width="0.5"/>
<text x="299.43" y="144.10" font-size="5.8" text-anchor="middle" fill="#000" >1</text>
<text x="299.43" y="150.10" font-size="5.8" text-anchor="middle" fill="#000" >May</text>
<line x1="306.30" y1="136.50" x2="306.30" y2="138.50" stroke="#000" stroke-width="0.5"/>
<text x="306.30" y="144.10" font-size="5.8" text-anchor="middle" fill="#000" >3</text>
<line x1="313.17" y1="136.50" x2="313.17" y2="138.50" stroke="#000" stroke-width="0.5"/>
<text x="313.17" y="144.10" font-size="5.8" text-anchor="middle" fill="#000" >5</text>
<line x1="323.48" y1="136.50" x2="323.48" y2="138.50" stroke="#000" stroke-width="0.5"/>
<text x="323.48" y="144.10" font-size="5.8" text-anchor="middle" fill="#000" >8</text>
<line x1="333.78" y1="136.50" x2="333.78" y2="138.50" stroke="#000" stroke-width="0.5"/>
<text x="333.78" y="144.10" font-size="5.8" text-anchor="middle" fill="#000" >11</text>
<line x1="347.52" y1="136.50" x2="347.52" y2="138.50" stroke="#000" stroke-width="0.5"/>
<text x="347.52" y="144.10" font-size="5.8" text-anchor="middle" fill="#000" >15</text>
<line x1="354.39" y1="136.50" x2="354.39" y2="138.50" stroke="#000" stroke-width="0.5"/>
<text x="354.39" y="144.10" font-size="5.8" text-anchor="middle" fill="#000" >17</text>
<line x1="361.26" y1="136.50" x2="361.26" y2="138.50" stroke="#000" stroke-width="0.5"/>
<text x="361.26" y="144.10" font-size="5.8" text-anchor="middle" fill="#000" >19</text>
<line x1="371.56" y1="136.50" x2="371.56" y2="138.50" stroke="#000" stroke-width="0.5"/>
<text x="371.56" y="144.10" font-size="5.8" text-anchor="middle" fill="#000" >22</text>
<line x1="378.44" y1="136.50" x2="378.44" y2="138.50" stroke="#000" stroke-width="0.5"/>
<text x="378.44" y="144.10" font-size="5.8" text-anchor="middle" fill="#000" >24</text>
<line x1="385.31" y1="136.50" x2="385.31" y2="138.50" stroke="#000" stroke-width="0.5"/>
<text x="385.31" y="144.10" font-size="5.8" text-anchor="middle" fill="#000" >26</text>
<line x1="395.61" y1="136.50" x2="395.61" y2="138.50" stroke="#000" stroke-width="0.5"/>
<text x="395.61" y="144.10" font-size="5.8" text-anchor="middle" fill="#000" >29</text>
<line x1="402.48" y1="136.50" x2="402.48" y2="138.50" stroke="#000" stroke-width="0.5"/>
<text x="402.48" y="144.10" font-size="5.8" text-anchor="middle" fill="#000" >31</text>
<line x1="409.35" y1="136.50" x2="409.35" y2="138.50" stroke="#000" stroke-width="0.5"/>
<text x="409.35" y="144.10" font-size="5.8" text-anchor="middle" fill="#000" >2</text>
<text x="409.35" y="150.10" font-size="5.8" text-anchor="middle" fill="#000" >Jun</text>
<line x1="419.66" y1="136.50" x2="419.66" y2="138.50" stroke="#000" stroke-width="0.5"/>
<text x="419.66" y="144.10" font-size="5.8" text-anchor="middle" fill="#000" >5</text>
<line x1="426.53" y1="136.50" x2="426.53" y2="138.50" stroke="#000" stroke-width="0.5"/>
<text x="426.53" y="144.10" font-size="5.8" text-anchor="middle" fill="#000" >7</text>
<line x1="433.39" y1="136.50" x2="433.39" y2="138.50" stroke="#000" stroke-width="0.5"/>
<text x="433.39" y="144.10" font-size="5.8" text-anchor="middle" fill="#000" >9</text>
<line x1="443.70" y1="136.50" x2="443.70" y2="138.50" stroke="#000" stroke-width="0.5"/>
<text x="443.70" y="144.10" font-size="5.8" text-anchor="middle" fill="#000" >12</text>
<line x1="450.57" y1="136.50" x2="450.57" y2="138.50" stroke="#000" stroke-width="0.5"/>
<text x="450.57" y="144.10" font-size="5.8" text-anchor="middle" fill="#000" >14</text>
<line x1="457.44" y1="136.50" x2="457.44" y2="138.50" stroke="#000" stroke-width="0.5"/>
<text x="457.44" y="144.10" font-size="5.8" text-anchor="middle" fill="#000" >16</text>
<text transform="translate(15.6,114.00) rotate(-90)" font-size="5.8" text-anchor="middle" textLength="20.8" lengthAdjust="spacingAndGlyphs">HS [cm]</text>
<polygon points="31.50,203.20 31.50,182.41 72.38,182.86 77.53,181.14 89.90,181.68 105.01,182.41 120.12,182.41 123.90,177.53 128.02,176.80 130.08,177.16 137.99,174.45 145.20,175.18 155.16,176.08 161.00,177.53 169.24,179.15 173.02,177.16 176.11,176.44 179.55,172.64 182.30,171.74 192.26,172.46 196.04,171.56 205.31,171.74 218.02,172.46 232.10,171.02 241.03,168.85 248.94,167.40 254.09,168.31 264.74,167.76 272.29,169.03 290.16,169.57 302.18,167.58 313.17,170.11 327.25,173.55 334.12,170.11 349.24,171.02 365.38,172.10 370.53,173.19 386.68,176.62 401.11,180.06 417.25,184.40 431.68,186.75 444.04,190.91 456.41,195.97 460.60,197.41 460.60,203.20" fill="#d7d7d7" />
<line x1="268.51" y1="158.00" x2="268.51" y2="203.20" stroke="#808080" stroke-width="0.5" stroke-dasharray="1.2,1.2"/>
<line x1="282.25" y1="158.00" x2="282.25" y2="203.20" stroke="#808080" stroke-width="0.5" stroke-dasharray="1.2,1.2"/>
<line x1="316.61" y1="158.00" x2="316.61" y2="203.20" stroke="#808080" stroke-width="0.5" stroke-dasharray="1.2,1.2"/>
<rect x="37.02" y="182.51" width="2.7" height="20.69" fill="#e6e6e6"/>
<rect x="61.06" y="181.60" width="2.7" height="21.60" fill="#e6e6e6"/>
<rect x="88.55" y="180.90" width="2.7" height="22.30" fill="#e6e6e6"/>
<rect x="112.59" y="182.61" width="2.7" height="20.59" fill="#e6e6e6"/>
<rect x="129.77" y="178.39" width="2.7" height="24.81" fill="#e6e6e6"/>
<rect x="140.07" y="175.38" width="2.7" height="27.82" fill="#e6e6e6"/>
<rect x="143.51" y="177.08" width="2.7" height="26.12" fill="#e6e6e6"/>
<rect x="160.68" y="179.60" width="2.7" height="23.60" fill="#e6e6e6"/>
<rect x="184.72" y="174.07" width="2.7" height="29.13" fill="#e6e6e6"/>
<rect x="208.77" y="175.08" width="2.7" height="28.12" fill="#e6e6e6"/>
<rect x="225.95" y="175.58" width="2.7" height="27.62" fill="#e6e6e6"/>
<rect x="232.81" y="175.08" width="2.7" height="28.12" fill="#e6e6e6"/>
<rect x="256.86" y="168.75" width="2.7" height="34.45" fill="#e6e6e6"/>
<rect x="274.03" y="169.55" width="2.7" height="1.05" fill="#dee9e9"/>
<rect x="274.03" y="170.55" width="2.7" height="1.05" fill="#e2e9e9"/>
<rect x="274.03" y="171.55" width="2.7" height="1.65" fill="#e0e9e9"/>
<rect x="274.03" y="173.15" width="2.7" height="1.65" fill="#e7e8e8"/>
<rect x="274.03" y="174.75" width="2.7" height="1.05" fill="#d9e9ea"/>
<rect x="274.03" y="175.75" width="2.7" height="1.35" fill="#e4e8e9"/>
<rect x="274.03" y="177.05" width="2.7" height="1.05" fill="#e5e8e8"/>
<rect x="274.03" y="178.05" width="2.7" height="1.65" fill="#e0e9e9"/>
<rect x="274.03" y="179.65" width="2.7" height="1.65" fill="#e0e9e9"/>
<rect x="274.03" y="181.25" width="2.7" height="1.65" fill="#dae9ea"/>
<rect x="274.03" y="182.85" width="2.7" height="1.05" fill="#dee9e9"/>
<rect x="274.03" y="183.85" width="2.7" height="1.65" fill="#e2e9e9"/>
<rect x="274.03" y="185.45" width="2.7" height="1.05" fill="#dde9e9"/>
<rect x="274.03" y="186.45" width="2.7" height="1.05" fill="#e5e8e8"/>
<rect x="274.03" y="187.45" width="2.7" height="1.65" fill="#e7e8e8"/>
<rect x="274.03" y="189.05" width="2.7" height="1.05" fill="#dae9ea"/>
<rect x="274.03" y="190.05" width="2.7" height="1.35" fill="#e0e9e9"/>
<rect x="274.03" y="191.35" width="2.7" height="1.65" fill="#d9e9ea"/>
<rect x="274.03" y="192.95" width="2.7" height="1.35" fill="#dce9ea"/>
<rect x="274.03" y="194.25" width="2.7" height="1.35" fill="#e1e9e9"/>
<rect x="274.03" y="195.55" width="2.7" height="1.65" fill="#e1e9e9"/>
<rect x="274.03" y="197.15" width="2.7" height="1.05" fill="#d9e9ea"/>
<rect x="274.03" y="198.15" width="2.7" height="1.05" fill="#e7e8e8"/>
<rect x="274.03" y="199.15" width="2.7" height="1.35" fill="#e4e8e8"/>
<rect x="274.03" y="200.45" width="2.7" height="1.65" fill="#e1e9e9"/>
<rect x="274.03" y="202.05" width="2.7" height="1.20" fill="#dae9ea"/>
<rect x="274.03" y="172.50" width="2.7" height="1.50" fill="#53eaf3"/>
<rect x="274.03" y="177.00" width="2.7" height="0.80" fill="#bfeced"/>
<rect x="274.03" y="181.00" width="2.7" height="0.80" fill="#bfeced"/>
<rect x="274.03" y="185.00" width="2.7" height="0.80" fill="#bfeced"/>
<rect x="280.90" y="169.55" width="2.7" height="1.35" fill="#e0e9e9"/>
<rect x="280.90" y="170.85" width="2.7" height="1.35" fill="#dfe9e9"/>
<rect x="280.90" y="172.15" width="2.7" height="1.65" fill="#dee9e9"/>
<rect x="280.90" y="173.75" width="2.7" height="1.65" fill="#e4e8e8"/>
<rect x="280.90" y="175.35" width="2.7" height="1.35" fill="#dde9e9"/>
<rect x="280.90" y="176.65" width="2.7" height="1.05" fill="#dae9ea"/>
<rect x="280.90" y="177.65" width="2.7" height="1.65" fill="#dde9e9"/>
<rect x="280.90" y="179.25" width="2.7" height="1.05" fill="#dce9e9"/>
<rect x="280.90" y="180.25" width="2.7" height="1.35" fill="#d8eaea"/>
<rect x="280.90" y="181.55" width="2.7" height="1.65" fill="#dfe9e9"/>
<rect x="280.90" y="183.15" width="2.7" height="1.65" fill="#dde9e9"/>
<rect x="280.90" y="184.75" width="2.7" height="1.65" fill="#dae9ea"/>
<rect x="280.90" y="186.35" width="2.7" height="1.65" fill="#e4e8e9"/>
<rect x="280.90" y="187.95" width="2.7" height="1.05" fill="#e7e8e8"/>
<rect x="280.90" y="188.95" width="2.7" height="1.65" fill="#d8eaea"/>
<rect x="280.90" y="190.55" width="2.7" height="1.05" fill="#e2e9e9"/>
<rect x="280.90" y="191.55" width="2.7" height="1.05" fill="#e1e9e9"/>
<rect x="280.90" y="192.55" width="2.7" height="1.05" fill="#e8e8e8"/>
<rect x="280.90" y="193.55" width="2.7" height="1.35" fill="#dbe9ea"/>
<rect x="280.90" y="194.85" width="2.7" height="1.05" fill="#e7e8e8"/>
<rect x="280.90" y="195.85" width="2.7" height="1.65" fill="#dbe9ea"/>
<rect x="280.90" y="197.45" width="2.7" height="1.35" fill="#dce9ea"/>
<rect x="280.90" y="198.75" width="2.7" height="1.35" fill="#dfe9e9"/>
<rect x="280.90" y="200.05" width="2.7" height="1.35" fill="#e0e9e9"/>
<rect x="280.90" y="201.35" width="2.7" height="1.05" fill="#e3e8e9"/>
<rect x="280.90" y="202.35" width="2.7" height="0.90" fill="#e6e8e8"/>
<rect x="280.90" y="176.00" width="2.7" height="2.00" fill="#bfeced"/>
<rect x="291.21" y="170.15" width="2.7" height="1.65" fill="#e7e8e8"/>
<rect x="291.21" y="171.75" width="2.7" height="1.05" fill="#d8eaea"/>
<rect x="291.21" y="172.75" width="2.7" height="1.35" fill="#dee9e9"/>
<rect x="291.21" y="174.05" width="2.7" height="1.05" fill="#dde9e9"/>
<rect x="291.21" y="175.05" width="2.7" height="1.35" fill="#e3e9e9"/>
<rect x="291.21" y="176.35" width="2.7" height="1.05" fill="#d9e9ea"/>
<rect x="291.21" y="177.35" width="2.7" height="1.35" fill="#e2e9e9"/>
<rect x="291.21" y="178.65" width="2.7" height="1.65" fill="#e2e9e9"/>
<rect x="291.21" y="180.25" width="2.7" height="1.65" fill="#dde9e9"/>
<rect x="291.21" y="181.85" width="2.7" height="1.05" fill="#dee9e9"/>
<rect x="291.21" y="182.85" width="2.7" height="1.65" fill="#e4e8e9"/>
<rect x="291.21" y="184.45" width="2.7" height="1.65" fill="#dce9ea"/>
<rect x="291.21" y="186.05" width="2.7" height="1.05" fill="#d9e9ea"/>
<rect x="291.21" y="187.05" width="2.7" height="1.35" fill="#d8eaea"/>
<rect x="291.21" y="188.35" width="2.7" height="1.65" fill="#e3e8e9"/>
<rect x="291.21" y="189.95" width="2.7" height="1.35" fill="#e8e8e8"/>
<rect x="291.21" y="191.25" width="2.7" height="1.35" fill="#d8eaea"/>
<rect x="291.21" y="192.55" width="2.7" height="1.35" fill="#e8e8e8"/>
<rect x="291.21" y="193.85" width="2.7" height="1.65" fill="#dee9e9"/>
<rect x="291.21" y="195.45" width="2.7" height="1.05" fill="#e7e8e8"/>
<rect x="291.21" y="196.45" width="2.7" height="1.65" fill="#e3e9e9"/>
<rect x="291.21" y="198.05" width="2.7" height="1.35" fill="#dde9e9"/>
<rect x="291.21" y="199.35" width="2.7" height="1.35" fill="#dee9e9"/>
<rect x="291.21" y="200.65" width="2.7" height="1.35" fill="#dce9ea"/>
<rect x="291.21" y="201.95" width="2.7" height="1.05" fill="#dee9e9"/>
<rect x="291.21" y="202.95" width="2.7" height="0.30" fill="#e8e8e8"/>
<rect x="291.21" y="170.15" width="2.7" height="2.85" fill="#3ee9f4"/>
<rect x="291.21" y="174.50" width="2.7" height="1.20" fill="#14e0fa"/>
<rect x="291.21" y="176.00" width="2.7" height="5.00" fill="#b4edef"/>
<rect x="291.21" y="182.00" width="2.7" height="1.50" fill="#28e8f5"/>
<rect x="291.21" y="186.50" width="2.7" height="1.50" fill="#28e8f5"/>
<rect x="298.08" y="172.16" width="2.7" height="1.35" fill="#e4e8e9"/>
<rect x="298.08" y="173.46" width="2.7" height="1.35" fill="#e3e8e9"/>
<rect x="298.08" y="174.76" width="2.7" height="1.65" fill="#e3e9e9"/>
<rect x="298.08" y="176.36" width="2.7" height="1.35" fill="#e5e8e8"/>
<rect x="298.08" y="177.66" width="2.7" height="1.35" fill="#dae9ea"/>
<rect x="298.08" y="178.96" width="2.7" height="1.35" fill="#e3e8e9"/>
<rect x="298.08" y="180.26" width="2.7" height="1.35" fill="#e6e8e8"/>
<rect x="298.08" y="181.56" width="2.7" height="1.05" fill="#d8eaea"/>
<rect x="298.08" y="182.56" width="2.7" height="1.65" fill="#dce9ea"/>
<rect x="298.08" y="184.16" width="2.7" height="1.35" fill="#e0e9e9"/>
<rect x="298.08" y="185.46" width="2.7" height="1.65" fill="#dbe9ea"/>
<rect x="298.08" y="187.06" width="2.7" height="1.05" fill="#e3e9e9"/>
<rect x="298.08" y="188.06" width="2.7" height="1.65" fill="#e1e9e9"/>
<rect x="298.08" y="189.66" width="2.7" height="1.65" fill="#e6e8e8"/>
<rect x="298.08" y="191.26" width="2.7" height="1.65" fill="#e3e9e9"/>
<rect x="298.08" y="192.86" width="2.7" height="1.35" fill="#dde9e9"/>
<rect x="298.08" y="194.16" width="2.7" height="1.05" fill="#e1e9e9"/>
<rect x="298.08" y="195.16" width="2.7" height="1.05" fill="#e7e8e8"/>
<rect x="298.08" y="196.16" width="2.7" height="1.65" fill="#dde9e9"/>
<rect x="298.08" y="197.76" width="2.7" height="1.65" fill="#e1e9e9"/>
<rect x="298.08" y="199.36" width="2.7" height="1.05" fill="#dbe9ea"/>
<rect x="298.08" y="200.36" width="2.7" height="1.05" fill="#dfe9e9"/>
<rect x="298.08" y="201.36" width="2.7" height="1.05" fill="#e3e9e9"/>
<rect x="298.08" y="202.36" width="2.7" height="0.89" fill="#e5e8e8"/>
<rect x="298.08" y="173.00" width="2.7" height="2.00" fill="#7fecf2"/>
<rect x="298.08" y="175.50" width="2.7" height="1.50" fill="#53eaf3"/>
<rect x="298.08" y="178.50" width="2.7" height="1.50" fill="#0adbfc"/>
<rect x="298.08" y="181.00" width="2.7" height="1.00" fill="#7fecf2"/>
<rect x="298.08" y="183.00" width="2.7" height="1.00" fill="#3ee9f4"/>
<rect x="298.08" y="185.00" width="2.7" height="1.00" fill="#53eaf3"/>
<rect x="304.95" y="171.76" width="2.7" height="1.35" fill="#e2e9e9"/>
<rect x="304.95" y="173.06" width="2.7" height="1.65" fill="#e7e8e8"/>
<rect x="304.95" y="174.66" width="2.7" height="1.65" fill="#e2e9e9"/>
<rect x="304.95" y="176.26" width="2.7" height="1.05" fill="#e1e9e9"/>
<rect x="304.95" y="177.26" width="2.7" height="1.65" fill="#dbe9ea"/>
<rect x="304.95" y="178.86" width="2.7" height="1.35" fill="#e0e9e9"/>
<rect x="304.95" y="180.16" width="2.7" height="1.65" fill="#e1e9e9"/>
<rect x="304.95" y="181.76" width="2.7" height="1.35" fill="#dfe9e9"/>
<rect x="304.95" y="183.06" width="2.7" height="1.05" fill="#d9e9ea"/>
<rect x="304.95" y="184.06" width="2.7" height="1.05" fill="#e5e8e8"/>
<rect x="304.95" y="185.06" width="2.7" height="1.35" fill="#d8eaea"/>
<rect x="304.95" y="186.36" width="2.7" height="1.65" fill="#d8eaea"/>
<rect x="304.95" y="187.96" width="2.7" height="1.35" fill="#dfe9e9"/>
<rect x="304.95" y="189.26" width="2.7" height="1.65" fill="#e4e8e8"/>
<rect x="304.95" y="190.86" width="2.7" height="1.65" fill="#e0e9e9"/>
<rect x="304.95" y="192.46" width="2.7" height="1.65" fill="#dce9ea"/>
<rect x="304.95" y="194.06" width="2.7" height="1.35" fill="#dfe9e9"/>
<rect x="304.95" y="195.36" width="2.7" height="1.05" fill="#dae9ea"/>
<rect x="304.95" y="196.36" width="2.7" height="1.65" fill="#d8eaea"/>
<rect x="304.95" y="197.96" width="2.7" height="1.05" fill="#dbe9ea"/>
<rect x="304.95" y="198.96" width="2.7" height="1.05" fill="#e7e8e8"/>
<rect x="304.95" y="199.96" width="2.7" height="1.65" fill="#e0e9e9"/>
<rect x="304.95" y="201.56" width="2.7" height="1.05" fill="#d9e9ea"/>
<rect x="304.95" y="202.56" width="2.7" height="0.69" fill="#dee9e9"/>
<rect x="304.95" y="174.00" width="2.7" height="2.00" fill="#53eaf3"/>
<rect x="304.95" y="176.50" width="2.7" height="1.50" fill="#53eaf3"/>
<rect x="304.95" y="179.00" width="2.7" height="1.00" fill="#7fecf2"/>
<rect x="304.95" y="181.00" width="2.7" height="2.00" fill="#53eaf3"/>
<rect x="304.95" y="184.00" width="2.7" height="1.00" fill="#aaeef0"/>
<rect x="311.82" y="172.56" width="2.7" height="1.05" fill="#e0e9e9"/>
<rect x="311.82" y="173.56" width="2.7" height="1.05" fill="#e5e8e8"/>
<rect x="311.82" y="174.56" width="2.7" height="1.35" fill="#e4e8e9"/>
<rect x="311.82" y="175.86" width="2.7" height="1.05" fill="#dfe9e9"/>
<rect x="311.82" y="176.86" width="2.7" height="1.35" fill="#e7e8e8"/>
<rect x="311.82" y="178.16" width="2.7" height="1.65" fill="#e6e8e8"/>
<rect x="311.82" y="179.76" width="2.7" height="1.05" fill="#e4e8e9"/>
<rect x="311.82" y="180.76" width="2.7" height="1.65" fill="#e0e9e9"/>
<rect x="311.82" y="182.36" width="2.7" height="1.05" fill="#e2e9e9"/>
<rect x="311.82" y="183.36" width="2.7" height="1.05" fill="#e6e8e8"/>
<rect x="311.82" y="184.36" width="2.7" height="1.05" fill="#e5e8e8"/>
<rect x="311.82" y="185.36" width="2.7" height="1.35" fill="#d9e9ea"/>
<rect x="311.82" y="186.66" width="2.7" height="1.05" fill="#dae9ea"/>
<rect x="311.82" y="187.66" width="2.7" height="1.05" fill="#e0e9e9"/>
<rect x="311.82" y="188.66" width="2.7" height="1.65" fill="#dae9ea"/>
<rect x="311.82" y="190.26" width="2.7" height="1.05" fill="#dbe9ea"/>
<rect x="311.82" y="191.26" width="2.7" height="1.05" fill="#e4e8e9"/>
<rect x="311.82" y="192.26" width="2.7" height="1.65" fill="#dfe9e9"/>
<rect x="311.82" y="193.86" width="2.7" height="1.05" fill="#e0e9e9"/>
<rect x="311.82" y="194.86" width="2.7" height="1.05" fill="#dae9ea"/>
<rect x="311.82" y="195.86" width="2.7" height="1.05" fill="#e7e8e8"/>
<rect x="311.82" y="196.86" width="2.7" height="1.05" fill="#e7e8e8"/>
<rect x="311.82" y="197.86" width="2.7" height="1.05" fill="#dae9ea"/>
<rect x="311.82" y="198.86" width="2.7" height="1.05" fill="#dfe9e9"/>
<rect x="311.82" y="199.86" width="2.7" height="1.35" fill="#e3e9e9"/>
<rect x="311.82" y="201.16" width="2.7" height="1.35" fill="#e7e8e8"/>
<rect x="311.82" y="202.46" width="2.7" height="0.79" fill="#dde9e9"/>
<rect x="311.82" y="172.56" width="2.7" height="1.44" fill="#28e8f5"/>
<rect x="311.82" y="175.00" width="2.7" height="1.00" fill="#7fecf2"/>
<rect x="311.82" y="177.00" width="2.7" height="1.50" fill="#53eaf3"/>
<rect x="311.82" y="180.50" width="2.7" height="1.50" fill="#7fecf2"/>
<rect x="311.82" y="184.00" width="2.7" height="2.00" fill="#00c6ff"/>
<rect x="311.82" y="187.00" width="2.7" height="1.50" fill="#14e0fa"/>
<rect x="322.12" y="175.78" width="2.7" height="1.65" fill="#e3e8e9"/>
<rect x="322.12" y="177.38" width="2.7" height="1.35" fill="#e5e8e8"/>
<rect x="322.12" y="178.68" width="2.7" height="1.35" fill="#e1e9e9"/>
<rect x="322.12" y="179.98" width="2.7" height="1.05" fill="#dfe9e9"/>
<rect x="322.12" y="180.98" width="2.7" height="1.65" fill="#dce9ea"/>
<rect x="322.12" y="182.58" width="2.7" height="1.05" fill="#dfe9e9"/>
<rect x="322.12" y="183.58" width="2.7" height="1.05" fill="#e2e9e9"/>
<rect x="322.12" y="184.58" width="2.7" height="1.65" fill="#dde9e9"/>
<rect x="322.12" y="186.18" width="2.7" height="1.65" fill="#e2e9e9"/>
<rect x="322.12" y="187.78" width="2.7" height="1.05" fill="#dee9e9"/>
<rect x="322.12" y="188.78" width="2.7" height="1.35" fill="#e7e8e8"/>
<rect x="322.12" y="190.08" width="2.7" height="1.65" fill="#e0e9e9"/>
<rect x="322.12" y="191.68" width="2.7" height="1.65" fill="#e3e9e9"/>
<rect x="322.12" y="193.28" width="2.7" height="1.65" fill="#e1e9e9"/>
<rect x="322.12" y="194.88" width="2.7" height="1.05" fill="#e4e8e9"/>
<rect x="322.12" y="195.88" width="2.7" height="1.65" fill="#e4e8e9"/>
<rect x="322.12" y="197.48" width="2.7" height="1.65" fill="#e7e8e8"/>
<rect x="322.12" y="199.08" width="2.7" height="1.35" fill="#e4e8e8"/>
<rect x="322.12" y="200.38" width="2.7" height="1.05" fill="#d9e9ea"/>
<rect x="322.12" y="201.38" width="2.7" height="1.35" fill="#e2e9e9"/>
<rect x="322.12" y="202.68" width="2.7" height="0.57" fill="#dbe9ea"/>
<rect x="322.12" y="176.00" width="2.7" height="5.00" fill="#28e8f5"/>
<rect x="322.12" y="183.50" width="2.7" height="1.50" fill="#53eaf3"/>
<rect x="322.12" y="186.00" width="2.7" height="1.00" fill="#14e0fa"/>
<rect x="322.12" y="188.00" width="2.7" height="1.50" fill="#28e8f5"/>
<rect x="325.56" y="176.18" width="2.7" height="1.35" fill="#e6e8e8"/>
<rect x="325.56" y="177.48" width="2.7" height="1.65" fill="#e6e8e8"/>
<rect x="325.56" y="179.08" width="2.7" height="1.65" fill="#dde9e9"/>
<rect x="325.56" y="180.68" width="2.7" height="1.65" fill="#dbe9ea"/>
<rect x="325.56" y="182.28" width="2.7" height="1.65" fill="#e6e8e8"/>
<rect x="325.56" y="183.88" width="2.7" height="1.35" fill="#dfe9e9"/>
<rect x="325.56" y="185.18" width="2.7" height="1.05" fill="#dbe9ea"/>
<rect x="325.56" y="186.18" width="2.7" height="1.65" fill="#e8e8e8"/>
<rect x="325.56" y="187.78" width="2.7" height="1.05" fill="#e4e8e9"/>
<rect x="325.56" y="188.78" width="2.7" height="1.35" fill="#e7e8e8"/>
<rect x="325.56" y="190.08" width="2.7" height="1.05" fill="#dfe9e9"/>
<rect x="325.56" y="191.08" width="2.7" height="1.65" fill="#d9e9ea"/>
<rect x="325.56" y="192.68" width="2.7" height="1.05" fill="#dae9ea"/>
<rect x="325.56" y="193.68" width="2.7" height="1.35" fill="#dae9ea"/>
<rect x="325.56" y="194.98" width="2.7" height="1.05" fill="#e8e8e8"/>
<rect x="325.56" y="195.98" width="2.7" height="1.05" fill="#dde9e9"/>
<rect x="325.56" y="196.98" width="2.7" height="1.65" fill="#d8eaea"/>
<rect x="325.56" y="198.58" width="2.7" height="1.65" fill="#e3e8e9"/>
<rect x="325.56" y="200.18" width="2.7" height="1.05" fill="#e7e8e8"/>
<rect x="325.56" y="201.18" width="2.7" height="1.65" fill="#e0e9e9"/>
<rect x="325.56" y="202.78" width="2.7" height="0.47" fill="#e4e8e9"/>
<rect x="325.56" y="176.18" width="2.7" height="6.82" fill="#1ee4f8"/>
<rect x="325.56" y="184.50" width="2.7" height="1.50" fill="#00d7ff"/>
<rect x="325.56" y="187.00" width="2.7" height="1.00" fill="#7fecf2"/>
<rect x="332.43" y="174.57" width="2.7" height="1.65" fill="#dce9ea"/>
<rect x="332.43" y="176.17" width="2.7" height="1.65" fill="#e7e8e8"/>
<rect x="332.43" y="177.77" width="2.7" height="1.35" fill="#dae9ea"/>
<rect x="332.43" y="179.07" width="2.7" height="1.05" fill="#dae9ea"/>
<rect x="332.43" y="180.07" width="2.7" height="1.05" fill="#d7eaea"/>
<rect x="332.43" y="181.07" width="2.7" height="1.65" fill="#e4e8e9"/>
<rect x="332.43" y="182.67" width="2.7" height="1.65" fill="#dce9e9"/>
<rect x="332.43" y="184.27" width="2.7" height="1.35" fill="#e4e8e9"/>
<rect x="332.43" y="185.57" width="2.7" height="1.65" fill="#e1e9e9"/>
<rect x="332.43" y="187.17" width="2.7" height="1.35" fill="#dfe9e9"/>
<rect x="332.43" y="188.47" width="2.7" height="1.05" fill="#e2e9e9"/>
<rect x="332.43" y="189.47" width="2.7" height="1.05" fill="#d8eaea"/>
<rect x="332.43" y="190.47" width="2.7" height="1.35" fill="#dae9ea"/>
<rect x="332.43" y="191.77" width="2.7" height="1.05" fill="#e1e9e9"/>
<rect x="332.43" y="192.77" width="2.7" height="1.65" fill="#dbe9ea"/>
<rect x="332.43" y="194.37" width="2.7" height="1.65" fill="#d9e9ea"/>
<rect x="332.43" y="195.97" width="2.7" height="1.65" fill="#e0e9e9"/>
<rect x="332.43" y="197.57" width="2.7" height="1.65" fill="#e1e9e9"/>
<rect x="332.43" y="199.17" width="2.7" height="1.05" fill="#e5e8e8"/>
<rect x="332.43" y="200.17" width="2.7" height="1.35" fill="#dce9ea"/>
<rect x="332.43" y="201.47" width="2.7" height="1.65" fill="#dfe9e9"/>
<rect x="332.43" y="203.07" width="2.7" height="0.18" fill="#dee9e9"/>
<rect x="332.43" y="178.00" width="2.7" height="3.00" fill="#53eaf3"/>
<rect x="332.43" y="184.50" width="2.7" height="2.00" fill="#00d7ff"/>
<rect x="335.87" y="174.57" width="2.7" height="1.05" fill="#e6e8e8"/>
<rect x="335.87" y="175.57" width="2.7" height="1.05" fill="#e6e8e8"/>
<rect x="335.87" y="176.57" width="2.7" height="1.65" fill="#e3e9e9"/>
<rect x="335.87" y="178.17" width="2.7" height="1.05" fill="#dae9ea"/>
<rect x="335.87" y="179.17" width="2.7" height="1.65" fill="#d8eaea"/>
<rect x="335.87" y="180.77" width="2.7" height="1.35" fill="#dde9e9"/>
<rect x="335.87" y="182.07" width="2.7" height="1.35" fill="#dee9e9"/>
<rect x="335.87" y="183.37" width="2.7" height="1.65" fill="#dee9e9"/>
<rect x="335.87" y="184.97" width="2.7" height="1.35" fill="#d9e9ea"/>
<rect x="335.87" y="186.27" width="2.7" height="1.35" fill="#e8e8e8"/>
<rect x="335.87" y="187.57" width="2.7" height="1.35" fill="#dbe9ea"/>
<rect x="335.87" y="188.87" width="2.7" height="1.05" fill="#e5e8e8"/>
<rect x="335.87" y="189.87" width="2.7" height="1.35" fill="#e4e8e9"/>
<rect x="335.87" y="191.17" width="2.7" height="1.35" fill="#dbe9ea"/>
<rect x="335.87" y="192.47" width="2.7" height="1.05" fill="#e1e9e9"/>
<rect x="335.87" y="193.47" width="2.7" height="1.65" fill="#e0e9e9"/>
<rect x="335.87" y="195.07" width="2.7" height="1.65" fill="#e5e8e8"/>
<rect x="335.87" y="196.67" width="2.7" height="1.65" fill="#dae9ea"/>
<rect x="335.87" y="198.27" width="2.7" height="1.65" fill="#dfe9e9"/>
<rect x="335.87" y="199.87" width="2.7" height="1.35" fill="#d8eaea"/>
<rect x="335.87" y="201.17" width="2.7" height="1.05" fill="#dae9ea"/>
<rect x="335.87" y="202.17" width="2.7" height="1.08" fill="#dbe9ea"/>
<rect x="335.87" y="178.00" width="2.7" height="6.00" fill="#53eaf3"/>
<rect x="335.87" y="184.50" width="2.7" height="1.50" fill="#0adbfc"/>
<rect x="335.87" y="187.00" width="2.7" height="2.00" fill="#aaeef0"/>
<rect x="346.17" y="172.56" width="2.7" height="1.05" fill="#e0e9e9"/>
<rect x="346.17" y="173.56" width="2.7" height="1.05" fill="#d9e9ea"/>
<rect x="346.17" y="174.56" width="2.7" height="1.65" fill="#dce9ea"/>
<rect x="346.17" y="176.16" width="2.7" height="1.65" fill="#e7e8e8"/>
<rect x="346.17" y="177.76" width="2.7" height="1.05" fill="#dae9ea"/>
<rect x="346.17" y="178.76" width="2.7" height="1.05" fill="#d9e9ea"/>
<rect x="346.17" y="179.76" width="2.7" height="1.35" fill="#e6e8e8"/>
<rect x="346.17" y="181.06" width="2.7" height="1.65" fill="#dce9ea"/>
<rect x="346.17" y="182.66" width="2.7" height="1.05" fill="#d9e9ea"/>
<rect x="346.17" y="183.66" width="2.7" height="1.35" fill="#e5e8e8"/>
<rect x="346.17" y="184.96" width="2.7" height="1.05" fill="#e3e9e9"/>
<rect x="346.17" y="185.96" width="2.7" height="1.35" fill="#e6e8e8"/>
<rect x="346.17" y="187.26" width="2.7" height="1.05" fill="#e6e8e8"/>
<rect x="346.17" y="188.26" width="2.7" height="1.35" fill="#dae9ea"/>
<rect x="346.17" y="189.56" width="2.7" height="1.35" fill="#e7e8e8"/>
<rect x="346.17" y="190.86" width="2.7" height="1.35" fill="#dee9e9"/>
<rect x="346.17" y="192.16" width="2.7" height="1.65" fill="#e2e9e9"/>
<rect x="346.17" y="193.76" width="2.7" height="1.05" fill="#e2e9e9"/>
<rect x="346.17" y="194.76" width="2.7" height="1.35" fill="#e2e9e9"/>
<rect x="346.17" y="196.06" width="2.7" height="1.05" fill="#e5e8e8"/>
<rect x="346.17" y="197.06" width="2.7" height="1.65" fill="#dce9ea"/>
<rect x="346.17" y="198.66" width="2.7" height="1.35" fill="#e2e9e9"/>
<rect x="346.17" y="199.96" width="2.7" height="1.65" fill="#e3e9e9"/>
<rect x="346.17" y="201.56" width="2.7" height="1.35" fill="#e7e8e8"/>
<rect x="346.17" y="202.86" width="2.7" height="0.39" fill="#e6e8e8"/>
<rect x="346.17" y="174.00" width="2.7" height="2.00" fill="#53eaf3"/>
<rect x="346.17" y="177.00" width="2.7" height="2.00" fill="#14e0fa"/>
<rect x="346.17" y="180.00" width="2.7" height="2.00" fill="#aaeef0"/>
<rect x="346.17" y="186.00" width="2.7" height="1.00" fill="#bfeced"/>
<rect x="353.04" y="170.56" width="2.7" height="1.65" fill="#d9e9ea"/>
<rect x="353.04" y="172.16" width="2.7" height="1.05" fill="#dfe9e9"/>
<rect x="353.04" y="173.16" width="2.7" height="1.65" fill="#e2e9e9"/>
<rect x="353.04" y="174.76" width="2.7" height="1.35" fill="#dbe9ea"/>
<rect x="353.04" y="176.06" width="2.7" height="1.35" fill="#dde9e9"/>
<rect x="353.04" y="177.36" width="2.7" height="1.65" fill="#dde9e9"/>
<rect x="353.04" y="178.96" width="2.7" height="1.35" fill="#e6e8e8"/>
<rect x="353.04" y="180.26" width="2.7" height="1.35" fill="#dde9e9"/>
<rect x="353.04" y="181.56" width="2.7" height="1.65" fill="#dfe9e9"/>
<rect x="353.04" y="183.16" width="2.7" height="1.65" fill="#e0e9e9"/>
<rect x="353.04" y="184.76" width="2.7" height="1.35" fill="#e7e8e8"/>
<rect x="353.04" y="186.06" width="2.7" height="1.35" fill="#dde9e9"/>
<rect x="353.04" y="187.36" width="2.7" height="1.65" fill="#dce9ea"/>
<rect x="353.04" y="188.96" width="2.7" height="1.65" fill="#dde9e9"/>
<rect x="353.04" y="190.56" width="2.7" height="1.65" fill="#e6e8e8"/>
<rect x="353.04" y="192.16" width="2.7" height="1.35" fill="#d9e9ea"/>
<rect x="353.04" y="193.46" width="2.7" height="1.65" fill="#e0e9e9"/>
<rect x="353.04" y="195.06" width="2.7" height="1.05" fill="#d9e9ea"/>
<rect x="353.04" y="196.06" width="2.7" height="1.05" fill="#d9e9ea"/>
<rect x="353.04" y="197.06" width="2.7" height="1.65" fill="#dce9ea"/>
<rect x="353.04" y="198.66" width="2.7" height="1.65" fill="#e1e9e9"/>
<rect x="353.04" y="200.26" width="2.7" height="1.35" fill="#dde9e9"/>
<rect x="353.04" y="201.56" width="2.7" height="1.35" fill="#e0e9e9"/>
<rect x="353.04" y="202.86" width="2.7" height="0.39" fill="#dce9ea"/>
<rect x="353.04" y="174.00" width="2.7" height="4.00" fill="#53eaf3"/>
<rect x="353.04" y="179.00" width="2.7" height="4.00" fill="#aaeef0"/>
<rect x="359.91" y="173.57" width="2.7" height="1.05" fill="#dce9ea"/>
<rect x="359.91" y="174.57" width="2.7" height="1.65" fill="#dfe9e9"/>
<rect x="359.91" y="176.17" width="2.7" height="1.65" fill="#e2e9e9"/>
<rect x="359.91" y="177.77" width="2.7" height="1.05" fill="#e4e8e9"/>
<rect x="359.91" y="178.77" width="2.7" height="1.35" fill="#e7e8e8"/>
<rect x="359.91" y="180.07" width="2.7" height="1.05" fill="#e7e8e8"/>
<rect x="359.91" y="181.07" width="2.7" height="1.65" fill="#e4e8e9"/>
<rect x="359.91" y="182.67" width="2.7" height="1.65" fill="#dbe9ea"/>
<rect x="359.91" y="184.27" width="2.7" height="1.35" fill="#dae9ea"/>
<rect x="359.91" y="185.57" width="2.7" height="1.35" fill="#e1e9e9"/>
<rect x="359.91" y="186.87" width="2.7" height="1.05" fill="#e2e9e9"/>
<rect x="359.91" y="187.87" width="2.7" height="1.05" fill="#e5e8e8"/>
<rect x="359.91" y="188.87" width="2.7" height="1.65" fill="#e6e8e8"/>
<rect x="359.91" y="190.47" width="2.7" height="1.05" fill="#dfe9e9"/>
<rect x="359.91" y="191.47" width="2.7" height="1.65" fill="#e6e8e8"/>
<rect x="359.91" y="193.07" width="2.7" height="1.65" fill="#e5e8e8"/>
<rect x="359.91" y="194.67" width="2.7" height="1.35" fill="#dde9e9"/>
<rect x="359.91" y="195.97" width="2.7" height="1.35" fill="#dbe9ea"/>
<rect x="359.91" y="197.27" width="2.7" height="1.65" fill="#e6e8e8"/>
<rect x="359.91" y="198.87" width="2.7" height="1.65" fill="#e6e8e8"/>
<rect x="359.91" y="200.47" width="2.7" height="1.35" fill="#dbe9ea"/>
<rect x="359.91" y="201.77" width="2.7" height="1.48" fill="#dfe9e9"/>
<rect x="359.91" y="175.00" width="2.7" height="6.00" fill="#3ee9f4"/>
<rect x="359.91" y="183.00" width="2.7" height="1.00" fill="#aaeef0"/>
<rect x="359.91" y="188.00" width="2.7" height="1.00" fill="#7fecf2"/>
<rect x="370.21" y="173.87" width="2.7" height="1.65" fill="#e5e8e8"/>
<rect x="370.21" y="175.47" width="2.7" height="1.35" fill="#e2e9e9"/>
<rect x="370.21" y="176.77" width="2.7" height="1.35" fill="#e8e8e8"/>
<rect x="370.21" y="178.07" width="2.7" height="1.35" fill="#d9e9ea"/>
<rect x="370.21" y="179.37" width="2.7" height="1.35" fill="#e3e9e9"/>
<rect x="370.21" y="180.67" width="2.7" height="1.65" fill="#e3e8e9"/>
<rect x="370.21" y="182.27" width="2.7" height="1.35" fill="#d8eaea"/>
<rect x="370.21" y="183.57" width="2.7" height="1.65" fill="#dce9ea"/>
<rect x="370.21" y="185.17" width="2.7" height="1.65" fill="#e0e9e9"/>
<rect x="370.21" y="186.77" width="2.7" height="1.65" fill="#e5e8e8"/>
<rect x="370.21" y="188.37" width="2.7" height="1.65" fill="#e8e8e8"/>
<rect x="370.21" y="189.97" width="2.7" height="1.65" fill="#e4e8e8"/>
<rect x="370.21" y="191.57" width="2.7" height="1.05" fill="#dfe9e9"/>
<rect x="370.21" y="192.57" width="2.7" height="1.35" fill="#e5e8e8"/>
<rect x="370.21" y="193.87" width="2.7" height="1.65" fill="#e4e8e8"/>
<rect x="370.21" y="195.47" width="2.7" height="1.65" fill="#d9e9ea"/>
<rect x="370.21" y="197.07" width="2.7" height="1.35" fill="#e6e8e8"/>
<rect x="370.21" y="198.37" width="2.7" height="1.35" fill="#d8eaea"/>
<rect x="370.21" y="199.67" width="2.7" height="1.05" fill="#e6e8e8"/>
<rect x="370.21" y="200.67" width="2.7" height="1.05" fill="#dee9e9"/>
<rect x="370.21" y="201.67" width="2.7" height="1.05" fill="#e8e8e8"/>
<rect x="370.21" y="202.67" width="2.7" height="0.58" fill="#e4e8e8"/>
<rect x="370.21" y="174.00" width="2.7" height="12.00" fill="#53eaf3"/>
<rect x="370.21" y="175.00" width="2.7" height="1.00" fill="#1ee4f8"/>
<rect x="370.21" y="180.00" width="2.7" height="1.00" fill="#1ee4f8"/>
<rect x="370.21" y="184.00" width="2.7" height="1.00" fill="#1ee4f8"/>
<rect x="377.08" y="175.58" width="2.7" height="1.05" fill="#e0e9e9"/>
<rect x="377.08" y="176.58" width="2.7" height="1.05" fill="#d9e9ea"/>
<rect x="377.08" y="177.58" width="2.7" height="1.35" fill="#e3e9e9"/>
<rect x="377.08" y="178.88" width="2.7" height="1.35" fill="#dde9e9"/>
<rect x="377.08" y="180.18" width="2.7" height="1.05" fill="#e7e8e8"/>
<rect x="377.08" y="181.18" width="2.7" height="1.65" fill="#dbe9ea"/>
<rect x="377.08" y="182.78" width="2.7" height="1.05" fill="#dce9ea"/>
<rect x="377.08" y="183.78" width="2.7" height="1.65" fill="#d8eaea"/>
<rect x="377.08" y="185.38" width="2.7" height="1.05" fill="#d9e9ea"/>
<rect x="377.08" y="186.38" width="2.7" height="1.05" fill="#e1e9e9"/>
<rect x="377.08" y="187.38" width="2.7" height="1.05" fill="#e0e9e9"/>
<rect x="377.08" y="188.38" width="2.7" height="1.05" fill="#dbe9ea"/>
<rect x="377.08" y="189.38" width="2.7" height="1.35" fill="#e7e8e8"/>
<rect x="377.08" y="190.68" width="2.7" height="1.05" fill="#dce9ea"/>
<rect x="377.08" y="191.68" width="2.7" height="1.35" fill="#e0e9e9"/>
<rect x="377.08" y="192.98" width="2.7" height="1.65" fill="#e7e8e8"/>
<rect x="377.08" y="194.58" width="2.7" height="1.35" fill="#e5e8e8"/>
<rect x="377.08" y="195.88" width="2.7" height="1.35" fill="#e3e8e9"/>
<rect x="377.08" y="197.18" width="2.7" height="1.35" fill="#e0e9e9"/>
<rect x="377.08" y="198.48" width="2.7" height="1.65" fill="#e1e9e9"/>
<rect x="377.08" y="200.08" width="2.7" height="1.05" fill="#e0e9e9"/>
<rect x="377.08" y="201.08" width="2.7" height="1.05" fill="#dce9ea"/>
<rect x="377.08" y="202.08" width="2.7" height="1.17" fill="#dae9ea"/>
<rect x="377.08" y="176.00" width="2.7" height="2.00" fill="#7fecf2"/>
<rect x="377.08" y="179.00" width="2.7" height="1.00" fill="#aaeef0"/>
<rect x="377.08" y="181.00" width="2.7" height="2.00" fill="#7fecf2"/>
<rect x="377.08" y="186.00" width="2.7" height="1.00" fill="#aaeef0"/>
<rect x="383.95" y="176.58" width="2.7" height="1.35" fill="#baecee"/>
<rect x="383.95" y="177.88" width="2.7" height="1.65" fill="#bcecee"/>
<rect x="383.95" y="179.48" width="2.7" height="1.05" fill="#b6edef"/>
<rect x="383.95" y="180.48" width="2.7" height="1.35" fill="#b6edee"/>
<rect x="383.95" y="181.78" width="2.7" height="1.05" fill="#b5edef"/>
<rect x="383.95" y="182.78" width="2.7" height="1.65" fill="#c0eced"/>
<rect x="383.95" y="184.38" width="2.7" height="1.05" fill="#c2eced"/>
<rect x="383.95" y="185.38" width="2.7" height="1.65" fill="#bcecee"/>
<rect x="383.95" y="186.98" width="2.7" height="1.05" fill="#b8edee"/>
<rect x="383.95" y="187.98" width="2.7" height="1.05" fill="#c1eced"/>
<rect x="383.95" y="188.98" width="2.7" height="1.05" fill="#bbecee"/>
<rect x="383.95" y="189.98" width="2.7" height="1.05" fill="#c2eced"/>
<rect x="383.95" y="190.98" width="2.7" height="1.05" fill="#bcecee"/>
<rect x="383.95" y="191.98" width="2.7" height="1.35" fill="#bcecee"/>
<rect x="383.95" y="193.28" width="2.7" height="1.65" fill="#b7edee"/>
<rect x="383.95" y="194.88" width="2.7" height="1.05" fill="#bcecee"/>
<rect x="383.95" y="195.88" width="2.7" height="1.35" fill="#bbecee"/>
<rect x="383.95" y="197.18" width="2.7" height="1.05" fill="#bfeced"/>
<rect x="383.95" y="198.18" width="2.7" height="1.35" fill="#bbecee"/>
<rect x="383.95" y="199.48" width="2.7" height="1.05" fill="#bdecee"/>
<rect x="383.95" y="200.48" width="2.7" height="1.05" fill="#bdecee"/>
<rect x="383.95" y="201.48" width="2.7" height="1.05" fill="#b9edee"/>
<rect x="383.95" y="202.48" width="2.7" height="0.77" fill="#beeced"/>
<rect x="383.95" y="177.00" width="2.7" height="6.00" fill="#14e0fa"/>
<rect x="383.95" y="184.00" width="2.7" height="1.00" fill="#7fecf2"/>
<rect x="383.95" y="186.00" width="2.7" height="1.00" fill="#3ee9f4"/>
<rect x="383.95" y="188.00" width="2.7" height="1.00" fill="#28e8f5"/>
<rect x="394.26" y="179.60" width="2.7" height="1.35" fill="#b2edef"/>
<rect x="394.26" y="180.90" width="2.7" height="1.35" fill="#b7edee"/>
<rect x="394.26" y="182.20" width="2.7" height="1.65" fill="#baecee"/>
<rect x="394.26" y="183.80" width="2.7" height="1.35" fill="#b4edef"/>
<rect x="394.26" y="185.10" width="2.7" height="1.35" fill="#b9edee"/>
<rect x="394.26" y="186.40" width="2.7" height="1.05" fill="#b3edef"/>
<rect x="394.26" y="187.40" width="2.7" height="1.05" fill="#b5edef"/>
<rect x="394.26" y="188.40" width="2.7" height="1.05" fill="#bdecee"/>
<rect x="394.26" y="189.40" width="2.7" height="1.65" fill="#bdecee"/>
<rect x="394.26" y="191.00" width="2.7" height="1.05" fill="#b6edee"/>
<rect x="394.26" y="192.00" width="2.7" height="1.35" fill="#beeced"/>
<rect x="394.26" y="193.30" width="2.7" height="1.65" fill="#b6edee"/>
<rect x="394.26" y="194.90" width="2.7" height="1.35" fill="#bbecee"/>
<rect x="394.26" y="196.20" width="2.7" height="1.35" fill="#b9edee"/>
<rect x="394.26" y="197.50" width="2.7" height="1.35" fill="#afedef"/>
<rect x="394.26" y="198.80" width="2.7" height="1.65" fill="#beeced"/>
<rect x="394.26" y="200.40" width="2.7" height="1.35" fill="#b2edef"/>
<rect x="394.26" y="201.70" width="2.7" height="1.55" fill="#afeeef"/>
<rect x="394.26" y="180.00" width="2.7" height="8.00" fill="#28e8f5"/>
<rect x="394.26" y="190.00" width="2.7" height="2.00" fill="#aaeef0"/>
<rect x="401.13" y="181.50" width="2.7" height="1.05" fill="#bbecee"/>
<rect x="401.13" y="182.50" width="2.7" height="1.05" fill="#bdecee"/>
<rect x="401.13" y="183.50" width="2.7" height="1.05" fill="#c3eced"/>
<rect x="401.13" y="184.50" width="2.7" height="1.65" fill="#c6ebec"/>
<rect x="401.13" y="186.10" width="2.7" height="1.65" fill="#beeced"/>
<rect x="401.13" y="187.70" width="2.7" height="1.35" fill="#c8ebec"/>
<rect x="401.13" y="189.00" width="2.7" height="1.65" fill="#bdecee"/>
<rect x="401.13" y="190.60" width="2.7" height="1.35" fill="#bdecee"/>
<rect x="401.13" y="191.90" width="2.7" height="1.65" fill="#c5ebec"/>
<rect x="401.13" y="193.50" width="2.7" height="1.05" fill="#c5ebed"/>
<rect x="401.13" y="194.50" width="2.7" height="1.35" fill="#c4eced"/>
<rect x="401.13" y="195.80" width="2.7" height="1.35" fill="#beeced"/>
<rect x="401.13" y="197.10" width="2.7" height="1.35" fill="#c5ebec"/>
<rect x="401.13" y="198.40" width="2.7" height="1.05" fill="#c3eced"/>
<rect x="401.13" y="199.40" width="2.7" height="1.65" fill="#bcecee"/>
<rect x="401.13" y="201.00" width="2.7" height="1.65" fill="#c5ebed"/>
<rect x="401.13" y="202.60" width="2.7" height="0.65" fill="#caebec"/>
<rect x="401.13" y="181.50" width="2.7" height="0.80" fill="#8a86f0"/>
<rect x="401.13" y="183.00" width="2.7" height="2.00" fill="#53eaf3"/>
<rect x="401.13" y="186.00" width="2.7" height="1.00" fill="#aaeef0"/>
<rect x="401.13" y="188.50" width="2.7" height="1.00" fill="#28e8f5"/>
<rect x="408.00" y="182.71" width="2.7" height="1.05" fill="#a3eef0"/>
<rect x="408.00" y="183.71" width="2.7" height="1.05" fill="#9fedf0"/>
<rect x="408.00" y="184.71" width="2.7" height="1.05" fill="#a1eef0"/>
<rect x="408.00" y="185.71" width="2.7" height="1.65" fill="#a4eef0"/>
<rect x="408.00" y="187.31" width="2.7" height="1.35" fill="#aeeeef"/>
<rect x="408.00" y="188.61" width="2.7" height="1.65" fill="#b1edef"/>
<rect x="408.00" y="190.21" width="2.7" height="1.65" fill="#9dedf0"/>
<rect x="408.00" y="191.81" width="2.7" height="1.35" fill="#abeef0"/>
<rect x="408.00" y="193.11" width="2.7" height="1.65" fill="#a5eef0"/>
<rect x="408.00" y="194.71" width="2.7" height="1.35" fill="#b2edef"/>
<rect x="408.00" y="196.01" width="2.7" height="1.05" fill="#aceef0"/>
<rect x="408.00" y="197.01" width="2.7" height="1.05" fill="#adeef0"/>
<rect x="408.00" y="198.01" width="2.7" height="1.35" fill="#b0edef"/>
<rect x="408.00" y="199.31" width="2.7" height="1.05" fill="#9fedf0"/>
<rect x="408.00" y="200.31" width="2.7" height="1.05" fill="#aeeeef"/>
<rect x="408.00" y="201.31" width="2.7" height="1.05" fill="#99edf1"/>
<rect x="408.00" y="202.31" width="2.7" height="0.94" fill="#b0edef"/>
<rect x="408.00" y="183.00" width="2.7" height="4.00" fill="#69ebf2"/>
<rect x="418.31" y="186.22" width="2.7" height="1.05" fill="#61ebf3"/>
<rect x="418.31" y="187.22" width="2.7" height="1.35" fill="#43e9f4"/>
<rect x="418.31" y="188.52" width="2.7" height="1.05" fill="#47e9f4"/>
<rect x="418.31" y="189.52" width="2.7" height="1.65" fill="#56eaf3"/>
<rect x="418.31" y="191.12" width="2.7" height="1.65" fill="#5aeaf3"/>
<rect x="418.31" y="192.72" width="2.7" height="1.65" fill="#4aeaf4"/>
<rect x="418.31" y="194.32" width="2.7" height="1.35" fill="#5febf3"/>
<rect x="418.31" y="195.62" width="2.7" height="1.05" fill="#63ebf3"/>
<rect x="418.31" y="196.62" width="2.7" height="1.05" fill="#50eaf3"/>
<rect x="418.31" y="197.62" width="2.7" height="1.05" fill="#5eeaf3"/>
<rect x="418.31" y="198.62" width="2.7" height="1.35" fill="#62ebf3"/>
<rect x="418.31" y="199.92" width="2.7" height="1.35" fill="#57eaf3"/>
<rect x="418.31" y="201.22" width="2.7" height="1.65" fill="#4feaf3"/>
<rect x="418.31" y="202.82" width="2.7" height="0.43" fill="#54eaf3"/>
<rect x="418.31" y="187.00" width="2.7" height="3.00" fill="#5ceaf3"/>
<rect x="418.31" y="192.00" width="2.7" height="2.00" fill="#53eaf3"/>
<rect x="425.18" y="186.83" width="2.7" height="1.65" fill="#3ee9f4"/>
<rect x="425.18" y="188.43" width="2.7" height="1.35" fill="#4eeaf4"/>
<rect x="425.18" y="189.73" width="2.7" height="1.65" fill="#4deaf4"/>
<rect x="425.18" y="191.33" width="2.7" height="1.05" fill="#52eaf3"/>
<rect x="425.18" y="192.33" width="2.7" height="1.65" fill="#4deaf4"/>
<rect x="425.18" y="193.93" width="2.7" height="1.35" fill="#55eaf3"/>
<rect x="425.18" y="195.23" width="2.7" height="1.65" fill="#5ceaf3"/>
<rect x="425.18" y="196.83" width="2.7" height="1.35" fill="#43e9f4"/>
<rect x="425.18" y="198.13" width="2.7" height="1.05" fill="#50eaf3"/>
<rect x="425.18" y="199.13" width="2.7" height="1.05" fill="#4beaf4"/>
<rect x="425.18" y="200.13" width="2.7" height="1.05" fill="#3ce9f4"/>
<rect x="425.18" y="201.13" width="2.7" height="1.65" fill="#43e9f4"/>
<rect x="425.18" y="202.73" width="2.7" height="0.52" fill="#41e9f4"/>
<rect x="425.18" y="187.00" width="2.7" height="3.00" fill="#4beaf4"/>
<rect x="425.18" y="193.00" width="2.7" height="2.00" fill="#3ee9f4"/>
<rect x="432.04" y="186.22" width="2.7" height="1.05" fill="#84ecf1"/>
<rect x="432.04" y="187.22" width="2.7" height="1.05" fill="#90edf1"/>
<rect x="432.04" y="188.22" width="2.7" height="1.05" fill="#8dedf1"/>
<rect x="432.04" y="189.22" width="2.7" height="1.35" fill="#89ecf1"/>
<rect x="432.04" y="190.52" width="2.7" height="1.35" fill="#91edf1"/>
<rect x="432.04" y="191.82" width="2.7" height="1.05" fill="#7fecf2"/>
<rect x="432.04" y="192.82" width="2.7" height="1.05" fill="#7fecf2"/>
<rect x="432.04" y="193.82" width="2.7" height="1.65" fill="#83ecf1"/>
<rect x="432.04" y="195.42" width="2.7" height="1.65" fill="#86ecf1"/>
<rect x="432.04" y="197.02" width="2.7" height="1.35" fill="#8cedf1"/>
<rect x="432.04" y="198.32" width="2.7" height="1.05" fill="#79ecf2"/>
<rect x="432.04" y="199.32" width="2.7" height="1.35" fill="#88ecf1"/>
<rect x="432.04" y="200.62" width="2.7" height="1.35" fill="#88ecf1"/>
<rect x="432.04" y="201.92" width="2.7" height="1.33" fill="#79ecf2"/>
<rect x="432.04" y="186.22" width="2.7" height="2.78" fill="#0adbfc"/>
<rect x="442.35" y="190.95" width="2.7" height="1.35" fill="#89ecf1"/>
<rect x="442.35" y="192.25" width="2.7" height="1.05" fill="#a4eef0"/>
<rect x="442.35" y="193.25" width="2.7" height="1.05" fill="#a9eef0"/>
<rect x="442.35" y="194.25" width="2.7" height="1.05" fill="#a0eef0"/>
<rect x="442.35" y="195.25" width="2.7" height="1.65" fill="#a8eef0"/>
<rect x="442.35" y="196.85" width="2.7" height="1.35" fill="#a9eef0"/>
<rect x="442.35" y="198.15" width="2.7" height="1.65" fill="#a3eef0"/>
<rect x="442.35" y="199.75" width="2.7" height="1.35" fill="#9bedf1"/>
<rect x="442.35" y="201.05" width="2.7" height="1.35" fill="#9aedf1"/>
<rect x="442.35" y="202.35" width="2.7" height="0.90" fill="#90edf1"/>
<rect x="449.22" y="193.76" width="2.7" height="1.35" fill="#a5eef0"/>
<rect x="449.22" y="195.06" width="2.7" height="1.35" fill="#a0eef0"/>
<rect x="449.22" y="196.36" width="2.7" height="1.35" fill="#9bedf1"/>
<rect x="449.22" y="197.66" width="2.7" height="1.05" fill="#a5eef0"/>
<rect x="449.22" y="198.66" width="2.7" height="1.65" fill="#a0eef0"/>
<rect x="449.22" y="200.26" width="2.7" height="1.35" fill="#88ecf1"/>
<rect x="449.22" y="201.56" width="2.7" height="1.65" fill="#9dedf0"/>
<rect x="449.22" y="203.16" width="2.7" height="0.09" fill="#9bedf1"/>
<rect x="456.09" y="195.87" width="2.7" height="1.35" fill="#9aedf1"/>
<rect x="456.09" y="197.17" width="2.7" height="1.65" fill="#a2eef0"/>
<rect x="456.09" y="198.77" width="2.7" height="1.35" fill="#a0eef0"/>
<rect x="456.09" y="200.07" width="2.7" height="1.35" fill="#9dedf0"/>
<rect x="456.09" y="201.37" width="2.7" height="1.35" fill="#8eedf1"/>
<rect x="456.09" y="202.67" width="2.7" height="0.58" fill="#90edf1"/>
<rect x="456.09" y="196.00" width="2.7" height="3.00" fill="#0091ff"/>
<text x="40.3" y="166.5" font-size="5.8" textLength="63.2" lengthAdjust="spacingAndGlyphs">(c) Liquid Water Content</text>
<rect x="31.50" y="158.00" width="429.10" height="45.20" fill="none" stroke="#000" stroke-width="0.45"/>
<rect x="460.6" y="158.0" width="5.00" height="45.20" fill="url(#g17)"/>
<rect x="460.60" y="158.00" width="5.00" height="45.20" fill="none" stroke="#000" stroke-width="0.45"/>
<line x1="465.60" y1="158.00" x2="467.60" y2="158.00" stroke="#000" stroke-width="0.5"/>
<text x="468.40" y="160.10" font-size="5.8" text-anchor="start" fill="#000" >15</text>
<line x1="465.60" y1="173.00" x2="467.60" y2="173.00" stroke="#000" stroke-width="0.5"/>
<text x="468.40" y="175.10" font-size="5.8" text-anchor="start" fill="#000" >10</text>
<line x1="465.60" y1="188.00" x2="467.60" y2="188.00" stroke="#000" stroke-width="0.5"/>
<text x="468.40" y="190.10" font-size="5.8" text-anchor="start" fill="#000" >5</text>
<line x1="465.60" y1="203.20" x2="467.60" y2="203.20" stroke="#000" stroke-width="0.5"/>
<text x="468.40" y="205.30" font-size="5.8" text-anchor="start" fill="#000" >0</text>
<text transform="translate(477.5,180.60) rotate(90)" font-size="5.8" text-anchor="middle">[%]</text>
<line x1="29.50" y1="203.20" x2="31.50" y2="203.20" stroke="#000" stroke-width="0.5"/>
<text x="28.90" y="205.30" font-size="5.8" text-anchor="end" fill="#000" >0</text>
<line x1="29.50" y1="185.30" x2="31.50" y2="185.30" stroke="#000" stroke-width="0.5"/>
<text x="28.90" y="187.40" font-size="5.8" text-anchor="end" fill="#000" >100</text>
<line x1="29.50" y1="167.40" x2="31.50" y2="167.40" stroke="#000" stroke-width="0.5"/>
<text x="28.90" y="169.50" font-size="5.8" text-anchor="end" fill="#000" >200</text>
<line x1="38.37" y1="203.20" x2="38.37" y2="205.20" stroke="#000" stroke-width="0.5"/>
<text x="38.37" y="210.80" font-size="5.8" text-anchor="middle" fill="#000" >14</text>
<text x="38.37" y="216.80" font-size="5.8" text-anchor="middle" fill="#000" >Feb</text>
<text x="38.37" y="222.80" font-size="5.8" text-anchor="middle" fill="#000" >2023</text>
<line x1="62.41" y1="203.20" x2="62.41" y2="205.20" stroke="#000" stroke-width="0.5"/>
<text x="62.41" y="210.80" font-size="5.8" text-anchor="middle" fill="#000" >21</text>
<line x1="89.90" y1="203.20" x2="89.90" y2="205.20" stroke="#000" stroke-width="0.5"/>
<text x="89.90" y="210.80" font-size="5.8" text-anchor="middle" fill="#000" >1</text>
<text x="89.90" y="216.80" font-size="5.8" text-anchor="middle" fill="#000" >Mar</text>
<line x1="113.94" y1="203.20" x2="113.94" y2="205.20" stroke="#000" stroke-width="0.5"/>
<text x="113.94" y="210.80" font-size="5.8" text-anchor="middle" fill="#000" >8</text>
<line x1="131.12" y1="203.20" x2="131.12" y2="205.20" stroke="#000" stroke-width="0.5"/>
<text x="131.12" y="210.80" font-size="5.8" text-anchor="middle" fill="#000" >13</text>
<line x1="141.42" y1="203.20" x2="141.42" y2="205.20" stroke="#000" stroke-width="0.5"/>
<text x="141.42" y="210.80" font-size="5.8" text-anchor="middle" fill="#000" >16</text>
<line x1="162.03" y1="203.20" x2="162.03" y2="205.20" stroke="#000" stroke-width="0.5"/>
<text x="162.03" y="210.80" font-size="5.8" text-anchor="middle" fill="#000" >22</text>
<line x1="186.07" y1="203.20" x2="186.07" y2="205.20" stroke="#000" stroke-width="0.5"/>
<text x="186.07" y="210.80" font-size="5.8" text-anchor="middle" fill="#000" >29</text>
<line x1="210.12" y1="203.20" x2="210.12" y2="205.20" stroke="#000" stroke-width="0.5"/>
<text x="210.12" y="210.80" font-size="5.8" text-anchor="middle" fill="#000" >5</text>
<text x="210.12" y="216.80" font-size="5.8" text-anchor="middle" fill="#000" >Apr</text>
<line x1="227.30" y1="203.20" x2="227.30" y2="205.20" stroke="#000" stroke-width="0.5"/>
<text x="227.30" y="210.80" font-size="5.8" text-anchor="middle" fill="#000" >10</text>
<line x1="234.16" y1="203.20" x2="234.16" y2="205.20" stroke="#000" stroke-width="0.5"/>
<text x="234.16" y="210.80" font-size="5.8" text-anchor="middle" fill="#000" >12</text>
<line x1="258.21" y1="203.20" x2="258.21" y2="205.20" stroke="#000" stroke-width="0.5"/>
<text x="258.21" y="210.80" font-size="5.8" text-anchor="middle" fill="#000" >19</text>
<line x1="275.38" y1="203.20" x2="275.38" y2="205.20" stroke="#000" stroke-width="0.5"/>
<text x="275.38" y="210.80" font-size="5.8" text-anchor="middle" fill="#000" >24</text>
<line x1="282.25" y1="203.20" x2="282.25" y2="205.20" stroke="#000" stroke-width="0.5"/>
<text x="282.25" y="210.80" font-size="5.8" text-anchor="middle" fill="#000" >26</text>
<line x1="292.56" y1="203.20" x2="292.56" y2="205.20" stroke="#000" stroke-width="0.5"/>
<text x="292.56" y="210.80" font-size="5.8" text-anchor="middle" fill="#000" >29</text>
<line x1="299.43" y1="203.20" x2="299.43" y2="205.20" stroke="#000" stroke-width="0.5"/>
<text x="299.43" y="210.80" font-size="5.8" text-anchor="middle" fill="#000" >1</text>
<text x="299.43" y="216.80" font-size="5.8" text-anchor="middle" fill="#000" >May</text>
<line x1="306.30" y1="203.20" x2="306.30" y2="205.20" stroke="#000" stroke-width="0.5"/>
<text x="306.30" y="210.80" font-size="5.8" text-anchor="middle" fill="#000" >3</text>
<line x1="313.17" y1="203.20" x2="313.17" y2="205.20" stroke="#000" stroke-width="0.5"/>
<text x="313.17" y="210.80" font-size="5.8" text-anchor="middle" fill="#000" >5</text>
<line x1="323.48" y1="203.20" x2="323.48" y2="205.20" stroke="#000" stroke-width="0.5"/>
<text x="323.48" y="210.80" font-size="5.8" text-anchor="middle" fill="#000" >8</text>
<line x1="333.78" y1="203.20" x2="333.78" y2="205.20" stroke="#000" stroke-width="0.5"/>
<text x="333.78" y="210.80" font-size="5.8" text-anchor="middle" fill="#000" >11</text>
<line x1="347.52" y1="203.20" x2="347.52" y2="205.20" stroke="#000" stroke-width="0.5"/>
<text x="347.52" y="210.80" font-size="5.8" text-anchor="middle" fill="#000" >15</text>
<line x1="354.39" y1="203.20" x2="354.39" y2="205.20" stroke="#000" stroke-width="0.5"/>
<text x="354.39" y="210.80" font-size="5.8" text-anchor="middle" fill="#000" >17</text>
<line x1="361.26" y1="203.20" x2="361.26" y2="205.20" stroke="#000" stroke-width="0.5"/>
<text x="361.26" y="210.80" font-size="5.8" text-anchor="middle" fill="#000" >19</text>
<line x1="371.56" y1="203.20" x2="371.56" y2="205.20" stroke="#000" stroke-width="0.5"/>
<text x="371.56" y="210.80" font-size="5.8" text-anchor="middle" fill="#000" >22</text>
<line x1="378.44" y1="203.20" x2="378.44" y2="205.20" stroke="#000" stroke-width="0.5"/>
<text x="378.44" y="210.80" font-size="5.8" text-anchor="middle" fill="#000" >24</text>
<line x1="385.31" y1="203.20" x2="385.31" y2="205.20" stroke="#000" stroke-width="0.5"/>
<text x="385.31" y="210.80" font-size="5.8" text-anchor="middle" fill="#000" >26</text>
<line x1="395.61" y1="203.20" x2="395.61" y2="205.20" stroke="#000" stroke-width="0.5"/>
<text x="395.61" y="210.80" font-size="5.8" text-anchor="middle" fill="#000" >29</text>
<line x1="402.48" y1="203.20" x2="402.48" y2="205.20" stroke="#000" stroke-width="0.5"/>
<text x="402.48" y="210.80" font-size="5.8" text-anchor="middle" fill="#000" >31</text>
<line x1="409.35" y1="203.20" x2="409.35" y2="205.20" stroke="#000" stroke-width="0.5"/>
<text x="409.35" y="210.80" font-size="5.8" text-anchor="middle" fill="#000" >2</text>
<text x="409.35" y="216.80" font-size="5.8" text-anchor="middle" fill="#000" >Jun</text>
<line x1="419.66" y1="203.20" x2="419.66" y2="205.20" stroke="#000" stroke-width="0.5"/>
<text x="419.66" y="210.80" font-size="5.8" text-anchor="middle" fill="#000" >5</text>
<line x1="426.53" y1="203.20" x2="426.53" y2="205.20" stroke="#000" stroke-width="0.5"/>
<text x="426.53" y="210.80" font-size="5.8" text-anchor="middle" fill="#000" >7</text>
<line x1="433.39" y1="203.20" x2="433.39" y2="205.20" stroke="#000" stroke-width="0.5"/>
<text x="433.39" y="210.80" font-size="5.8" text-anchor="middle" fill="#000" >9</text>
<line x1="443.70" y1="203.20" x2="443.70" y2="205.20" stroke="#000" stroke-width="0.5"/>
<text x="443.70" y="210.80" font-size="5.8" text-anchor="middle" fill="#000" >12</text>
<line x1="450.57" y1="203.20" x2="450.57" y2="205.20" stroke="#000" stroke-width="0.5"/>
<text x="450.57" y="210.80" font-size="5.8" text-anchor="middle" fill="#000" >14</text>
<line x1="457.44" y1="203.20" x2="457.44" y2="205.20" stroke="#000" stroke-width="0.5"/>
<text x="457.44" y="210.80" font-size="5.8" text-anchor="middle" fill="#000" >16</text>
<text transform="translate(15.6,180.60) rotate(-90)" font-size="5.8" text-anchor="middle" textLength="20.8" lengthAdjust="spacingAndGlyphs">HS [cm]</text>
<polygon points="31.50,247.60 32.30,247.39 33.10,247.20 33.90,247.20 34.70,247.20 35.50,247.20 36.30,247.20 37.10,247.20 37.90,247.20 38.70,246.61 39.50,245.43 40.30,243.57 41.10,244.96 41.90,244.66 42.70,244.12 43.50,245.05 44.30,244.67 45.10,246.16 45.90,247.45 46.70,247.60 47.50,247.60 48.30,247.60 49.10,247.60 49.90,247.60 50.70,247.60 51.50,247.60 52.30,247.60 53.10,247.60 53.90,245.69 54.70,246.95 55.50,247.59 56.30,247.54 57.10,247.49 57.90,247.44 58.70,247.40 59.50,247.35 60.30,247.30 61.10,247.25 61.90,247.21 62.70,246.70 63.50,246.27 64.30,245.01 65.10,244.74 65.90,246.07 66.70,245.59 67.50,245.90 68.30,246.36 69.10,247.45 69.90,247.60 70.70,247.60 71.50,247.60 72.30,247.60 73.10,247.60 73.90,247.60 74.70,247.60 75.50,247.60 76.30,247.60 77.10,247.60 77.90,247.60 78.70,247.60 79.50,247.60 80.30,247.60 81.10,247.60 81.90,247.60 82.70,247.60 83.50,247.60 84.30,247.60 85.10,247.60 85.90,247.60 86.70,247.60 87.50,247.60 88.30,247.60 89.10,247.60 89.90,247.60 90.70,247.60 91.50,247.60 92.30,247.60 93.10,247.60 93.90,247.60 94.70,247.60 95.50,247.60 96.30,247.60 97.10,247.60 97.90,247.60 98.70,247.60 99.50,247.60 100.30,247.60 101.10,247.60 101.90,247.60 102.70,247.60 103.50,247.60 104.30,247.60 105.10,247.60 105.90,247.60 106.70,247.60 107.50,247.60 108.30,247.60 109.10,247.60 109.90,247.60 110.70,247.60 111.50,247.60 112.30,247.60 113.10,247.60 113.90,247.60 114.70,247.60 115.50,247.60 116.30,247.60 117.10,247.60 117.90,247.60 118.70,247.60 119.50,247.60 120.30,247.60 121.10,247.60 121.90,247.60 122.70,247.60 123.50,247.60 124.30,247.60 125.10,247.60 125.90,247.60 126.70,247.60 127.50,247.60 128.30,247.60 129.10,247.60 129.90,247.60 130.70,247.60 131.50,247.60 132.30,247.60 133.10,247.60 133.90,246.57 134.70,245.95 135.50,247.60 136.30,247.60 137.10,247.60 137.90,247.60 138.70,247.60 139.50,247.60 140.30,247.60 141.10,247.60 141.90,247.60 142.70,247.60 143.50,247.60 144.30,247.60 145.10,247.60 145.90,247.60 146.70,246.36 147.50,242.51 148.30,243.02 149.10,244.67 149.90,246.20 150.70,247.25 151.50,245.97 152.30,247.60 153.10,247.60 153.90,247.60 154.70,247.60 155.50,247.60 156.30,247.60 157.10,247.60 157.90,247.60 158.70,247.60 159.50,247.60 160.30,247.60 161.10,246.58 161.90,247.08 162.70,247.42 163.50,246.12 164.30,244.10 165.10,243.72 165.90,245.66 166.70,247.37 167.50,245.72 168.30,243.87 169.10,243.93 169.90,244.18 170.70,243.91 171.50,245.12 172.30,244.85 173.10,245.04 173.90,247.60 174.70,247.60 175.50,247.60 176.30,247.60 177.10,247.60 177.90,247.60 178.70,247.60 179.50,247.60 180.30,247.60 181.10,247.60 181.90,247.60 182.70,247.60 183.50,247.60 184.30,247.60 185.10,247.60 185.90,247.60 186.70,247.60 187.50,247.60 188.30,247.60 189.10,247.60 189.90,247.60 190.70,247.60 191.50,247.60 192.30,246.67 193.10,247.60 193.90,247.60 194.70,247.60 195.50,247.60 196.30,247.60 197.10,247.60 197.90,247.60 198.70,247.60 199.50,247.60 200.30,247.60 201.10,247.60 201.90,247.60 202.70,247.60 203.50,247.60 204.30,247.60 205.10,247.60 205.90,247.60 206.70,247.60 207.50,247.60 208.30,247.60 209.10,247.60 209.90,247.60 210.70,247.60 211.50,247.60 212.30,247.60 213.10,247.60 213.90,247.60 214.70,247.60 215.50,247.60 216.30,247.60 217.10,247.60 217.90,247.60 218.70,247.60 219.50,247.60 220.30,247.60 221.10,247.60 221.90,247.60 222.70,247.60 223.50,247.60 224.30,247.60 225.10,247.60 225.90,247.60 226.70,247.60 227.50,247.60 228.30,247.60 229.10,247.60 229.90,247.60 230.70,247.60 231.50,247.60 232.30,247.60 233.10,247.60 233.90,247.60 234.70,247.60 235.50,247.60 236.30,247.60 237.10,247.60 237.90,247.60 238.70,247.30 239.50,247.60 240.30,247.60 241.10,247.60 241.90,247.60 242.70,247.60 243.50,247.60 244.30,247.60 245.10,247.60 245.90,247.60 246.70,247.60 247.50,247.60 248.30,247.60 249.10,247.60 249.90,247.60 250.70,247.60 251.50,247.60 252.30,247.60 253.10,247.60 253.90,247.60 254.70,247.60 255.50,247.60 256.30,247.60 257.10,247.60 257.90,247.60 258.70,247.60 259.50,247.60 260.30,247.60 261.10,247.60 261.90,247.60 262.70,247.60 263.50,247.60 264.30,247.60 265.10,247.60 265.90,247.60 266.70,247.60 267.50,247.60 268.30,247.60 269.10,247.60 269.90,247.60 270.70,247.60 271.50,246.28 272.30,244.03 273.10,244.40 273.90,244.24 274.70,246.51 275.50,245.99 276.30,246.84 277.10,247.60 277.90,247.60 278.70,247.60 279.50,247.60 280.30,247.60 281.10,247.60 281.90,247.60 282.70,247.60 283.50,247.60 284.30,247.60 285.10,247.60 285.90,247.60 286.70,247.60 287.50,247.60 288.30,247.60 289.10,247.60 289.90,245.75 290.70,245.48 291.50,247.01 292.30,246.55 293.10,245.48 293.90,246.00 294.70,245.98 295.50,246.03 296.30,245.70 297.10,245.34 297.90,246.62 298.70,247.35 299.50,246.11 300.30,245.05 301.10,246.04 301.90,246.82 302.70,247.60 303.50,247.60 304.30,247.60 305.10,247.60 305.90,247.60 306.70,247.60 307.50,247.60 308.30,247.60 309.10,247.60 309.90,247.60 310.70,245.72 311.50,246.12 312.30,246.17 313.10,244.58 313.90,242.76 314.70,240.05 315.50,243.61 316.30,242.37 317.10,241.05 317.90,242.65 318.70,243.78 319.50,242.94 320.30,241.50 321.10,244.05 321.90,242.54 322.70,243.04 323.50,243.99 324.30,241.58 325.10,240.34 325.90,244.89 326.70,245.60 327.50,246.56 328.30,245.25 329.10,244.93 329.90,247.20 330.70,243.79 331.50,243.28 332.30,243.85 333.10,247.25 333.90,247.60 334.70,247.60 335.50,247.60 336.30,247.60 337.10,247.60 337.90,247.60 338.70,247.60 339.50,247.60 340.30,247.60 341.10,247.60 341.90,247.08 342.70,247.49 343.50,247.60 344.30,247.60 345.10,247.07 345.90,247.51 346.70,247.60 347.50,247.60 348.30,247.60 349.10,247.60 349.90,247.60 350.70,247.60 351.50,247.60 352.30,247.60 353.10,247.60 353.90,247.60 354.70,247.60 355.50,247.60 356.30,247.60 357.10,247.60 357.90,247.60 358.70,247.60 359.50,247.60 360.30,247.60 361.10,247.60 361.90,247.60 362.70,246.77 363.50,245.92 364.30,245.97 365.10,246.80 365.90,246.64 366.70,245.25 367.50,245.91 368.30,246.50 369.10,243.59 369.90,245.13 370.70,245.35 371.50,243.47 372.30,243.07 373.10,241.87 373.90,241.71 374.70,242.83 375.50,241.86 376.30,238.64 377.10,240.00 377.90,242.42 378.70,241.99 379.50,240.00 380.30,240.47 381.10,244.37 381.90,243.26 382.70,244.06 383.50,245.68 384.30,247.38 385.10,247.60 385.90,243.77 386.70,242.38 387.50,243.04 388.30,239.71 389.10,241.33 389.90,242.68 390.70,241.08 391.50,240.21 392.30,241.82 393.10,243.18 393.90,241.83 394.70,240.29 395.50,243.62 396.30,243.85 397.10,242.93 397.90,240.44 398.70,243.18 399.50,244.58 400.30,241.81 401.10,241.38 401.90,244.10 402.70,244.45 403.50,243.44 404.30,242.51 405.10,242.97 405.90,244.18 406.70,243.52 407.50,242.44 408.30,242.97 409.10,242.33 409.90,240.13 410.70,241.22 411.50,242.73 412.30,242.20 413.10,243.21 413.90,244.46 414.70,242.63 415.50,238.20 416.30,241.38 417.10,241.02 417.90,241.40 418.70,241.51 419.50,243.59 420.30,243.18 421.10,244.43 421.90,243.49 422.70,245.50 423.50,244.64 424.30,243.46 425.10,243.56 425.90,244.60 426.70,244.46 427.50,243.00 428.30,240.43 429.10,243.38 429.90,243.77 430.70,241.96 431.50,240.34 432.30,239.53 433.10,241.35 433.90,242.29 434.70,241.43 435.50,241.82 436.30,243.37 437.10,241.62 437.90,240.04 438.70,239.59 439.50,238.46 440.30,239.76 441.10,241.65 441.90,241.14 442.70,239.61 443.50,240.32 444.30,241.85 445.10,242.58 445.90,239.99 446.70,240.26 447.50,240.77 448.30,242.82 449.10,239.56 449.90,238.07 450.70,241.11 451.50,240.80 452.30,239.67 453.10,237.73 453.90,239.71 454.70,242.76 455.50,242.34 456.30,240.56 457.10,241.24 457.90,244.23 458.70,245.19 459.50,242.62 460.30,240.81 461.10,243.40 461.90,244.04 462.70,245.68 463.50,244.22 464.30,244.04 465.10,243.81 465.40,247.60 31.50,247.60" fill="#c88058" />
<polygon points="31.50,252.45 32.30,248.89 33.10,248.47 33.90,248.31 34.70,248.47 35.50,248.49 36.30,248.53 37.10,248.97 37.90,249.47 38.70,249.35 39.50,249.05 40.30,249.03 41.10,248.44 41.90,248.25 42.70,248.23 43.50,248.13 44.30,247.96 45.10,247.79 45.90,247.62 46.70,248.59 47.50,249.62 48.30,250.27 49.10,250.90 49.90,250.90 50.70,250.19 51.50,250.51 52.30,250.08 53.10,248.62 53.90,247.73 54.70,247.77 55.50,247.97 56.30,248.46 57.10,249.08 57.90,251.22 58.70,250.29 59.50,252.61 60.30,251.46 61.10,250.01 61.90,247.95 62.70,247.60 63.50,247.60 64.30,247.60 65.10,247.60 65.90,247.60 66.70,247.60 67.50,247.60 68.30,247.60 69.10,250.09 69.90,250.92 70.70,251.90 71.50,253.11 72.30,251.89 73.10,253.75 73.90,252.03 74.70,251.59 75.50,251.89 76.30,254.03 77.10,254.47 77.90,255.89 78.70,257.48 79.50,259.47 80.30,261.80 81.10,263.10 81.90,262.81 82.70,264.32 83.50,264.36 84.30,262.63 85.10,262.21 85.90,260.88 86.70,257.51 87.50,257.26 88.30,257.19 89.10,257.82 89.90,256.28 90.70,255.32 91.50,256.00 92.30,255.61 93.10,257.16 93.90,255.77 94.70,251.67 95.50,254.29 96.30,254.55 97.10,253.83 97.90,254.29 98.70,254.20 99.50,254.40 100.30,253.66 101.10,254.96 101.90,256.55 102.70,256.09 103.50,256.07 104.30,254.44 105.10,254.52 105.90,254.52 106.70,256.90 107.50,255.94 108.30,254.59 109.10,255.99 109.90,255.81 110.70,258.10 111.50,258.84 112.30,259.00 113.10,255.47 113.90,254.22 114.70,254.62 115.50,257.23 116.30,254.69 117.10,251.28 117.90,250.38 118.70,250.85 119.50,250.79 120.30,251.50 121.10,251.19 121.90,250.37 122.70,252.62 123.50,251.91 124.30,254.98 125.10,254.44 125.90,255.92 126.70,257.92 127.50,255.46 128.30,254.68 129.10,254.79 129.90,254.25 130.70,253.48 131.50,251.99 132.30,251.02 133.10,249.05 133.90,247.98 134.70,247.78 135.50,247.82 136.30,249.99 137.10,250.32 137.90,252.87 138.70,256.10 139.50,258.29 140.30,261.77 141.10,260.74 141.90,259.39 142.70,257.41 143.50,253.98 144.30,251.35 145.10,249.90 145.90,249.42 146.70,248.38 147.50,248.10 148.30,247.93 149.10,247.75 149.90,247.65 150.70,248.05 151.50,248.17 152.30,247.95 153.10,247.78 153.90,249.37 154.70,251.12 155.50,251.52 156.30,252.62 157.10,251.26 157.90,251.72 158.70,251.14 159.50,250.83 160.30,249.42 161.10,250.22 161.90,249.16 162.70,248.62 163.50,248.55 164.30,248.16 165.10,247.86 165.90,247.60 166.70,247.60 167.50,247.60 168.30,247.60 169.10,247.60 169.90,247.60 170.70,247.60 171.50,247.60 172.30,247.60 173.10,247.60 173.90,247.93 174.70,250.42 175.50,252.52 176.30,253.57 177.10,252.50 177.90,254.21 178.70,254.16 179.50,255.82 180.30,256.08 181.10,255.32 181.90,257.01 182.70,257.73 183.50,259.81 184.30,261.59 185.10,262.01 185.90,260.12 186.70,258.31 187.50,255.59 188.30,254.28 189.10,252.62 189.90,249.37 190.70,249.25 191.50,248.18 192.30,247.98 193.10,248.51 193.90,249.27 194.70,249.72 195.50,250.98 196.30,250.92 197.10,251.98 197.90,253.72 198.70,253.07 199.50,254.67 200.30,253.11 201.10,254.21 201.90,253.81 202.70,253.94 203.50,255.06 204.30,255.08 205.10,255.20 205.90,255.96 206.70,257.59 207.50,257.98 208.30,259.37 209.10,261.67 209.90,262.13 210.70,261.06 211.50,261.53 212.30,261.32 213.10,261.59 213.90,258.40 214.70,259.00 215.50,259.97 216.30,260.31 217.10,257.74 217.90,256.67 218.70,257.46 219.50,255.39 220.30,257.12 221.10,256.47 221.90,254.01 222.70,253.75 223.50,254.89 224.30,254.29 225.10,254.47 225.90,256.96 226.70,255.68 227.50,255.02 228.30,252.02 229.10,251.93 229.90,251.84 230.70,249.84 231.50,249.79 232.30,250.01 233.10,250.34 233.90,251.57 234.70,250.67 235.50,251.81 236.30,251.31 237.10,249.72 237.90,248.50 238.70,249.66 239.50,256.18 240.30,256.58 241.10,256.71 241.90,258.01 242.70,257.38 243.50,256.99 244.30,255.50 245.10,255.40 245.90,255.25 246.70,256.68 247.50,256.79 248.30,256.22 249.10,253.69 249.90,253.21 250.70,255.31 251.50,254.26 252.30,255.23 253.10,254.31 253.90,254.28 254.70,253.03 255.50,252.55 256.30,253.39 257.10,252.53 257.90,251.56 258.70,249.56 259.50,248.61 260.30,249.36 261.10,250.95 261.90,250.54 262.70,249.84 263.50,250.17 264.30,251.82 265.10,250.84 265.90,252.92 266.70,252.50 267.50,251.67 268.30,251.11 269.10,248.65 269.90,247.85 270.70,248.17 271.50,248.15 272.30,247.75 273.10,247.60 273.90,247.60 274.70,247.60 275.50,247.60 276.30,247.60 277.10,247.60 277.90,249.33 278.70,250.91 279.50,253.27 280.30,253.43 281.10,252.29 281.90,254.23 282.70,254.24 283.50,254.86 284.30,255.49 285.10,254.89 285.90,256.55 286.70,255.90 287.50,254.23 288.30,252.96 289.10,251.27 289.90,248.52 290.70,247.85 291.50,248.29 292.30,248.11 293.10,248.15 293.90,248.17 294.70,248.08 295.50,247.99 296.30,247.90 297.10,247.81 297.90,247.72 298.70,247.63 299.50,248.10 300.30,248.22 301.10,248.07 301.90,247.87 302.70,247.67 303.50,248.26 304.30,249.17 305.10,249.87 305.90,250.25 306.70,249.91 307.50,251.41 308.30,251.18 309.10,250.83 309.90,251.93 310.70,249.20 311.50,247.60 312.30,247.60 313.10,247.60 313.90,247.60 314.70,247.60 315.50,247.60 316.30,247.60 317.10,247.60 317.90,247.60 318.70,247.60 319.50,247.60 320.30,247.60 321.10,247.60 321.90,247.60 322.70,247.60 323.50,247.60 324.30,247.60 325.10,247.60 325.90,247.60 326.70,247.60 327.50,247.60 328.30,247.60 329.10,247.60 329.90,247.60 330.70,247.60 331.50,247.60 332.30,247.60 333.10,247.60 333.90,247.95 334.70,248.98 335.50,249.90 336.30,251.57 337.10,251.47 337.90,250.80 338.70,249.88 339.50,250.68 340.30,249.73 341.10,249.75 341.90,248.52 342.70,248.61 343.50,249.28 344.30,248.72 345.10,248.55 345.90,249.05 346.70,249.17 347.50,249.04 348.30,249.07 349.10,249.42 349.90,250.12 350.70,251.20 351.50,250.76 352.30,250.74 353.10,249.41 353.90,249.67 354.70,249.04 355.50,249.84 356.30,250.68 357.10,249.98 357.90,252.48 358.70,251.23 359.50,251.24 360.30,249.78 361.10,252.17 361.90,248.24 362.70,247.60 363.50,247.60 364.30,247.60 365.10,247.60 365.90,247.60 366.70,247.60 367.50,247.60 368.30,247.60 369.10,247.60 369.90,247.60 370.70,247.60 371.50,247.60 372.30,247.60 373.10,247.60 373.90,247.60 374.70,247.60 375.50,247.60 376.30,247.60 377.10,247.60 377.90,247.60 378.70,247.60 379.50,247.60 380.30,247.60 381.10,247.60 381.90,247.60 382.70,247.60 383.50,247.60 384.30,247.60 385.10,247.60 385.90,247.60 386.70,247.60 387.50,247.60 388.30,247.60 389.10,247.60 389.90,247.60 390.70,247.60 391.50,247.60 392.30,247.60 393.10,247.60 393.90,247.60 394.70,247.60 395.50,247.60 396.30,247.60 397.10,247.60 397.90,247.60 398.70,247.60 399.50,247.60 400.30,247.60 401.10,247.60 401.90,247.60 402.70,247.60 403.50,247.60 404.30,247.60 405.10,247.60 405.90,247.60 406.70,247.60 407.50,247.60 408.30,247.60 409.10,247.60 409.90,247.60 410.70,247.60 411.50,247.60 412.30,247.60 413.10,247.60 413.90,247.60 414.70,247.60 415.50,247.60 416.30,247.60 417.10,247.60 417.90,247.60 418.70,247.60 419.50,247.60 420.30,247.60 421.10,247.60 421.90,247.60 422.70,247.60 423.50,247.60 424.30,247.60 425.10,247.60 425.90,247.60 426.70,247.60 427.50,247.60 428.30,247.60 429.10,247.60 429.90,247.60 430.70,247.60 431.50,247.60 432.30,247.60 433.10,247.60 433.90,247.60 434.70,247.60 435.50,247.60 436.30,247.60 437.10,247.60 437.90,247.60 438.70,247.60 439.50,247.60 440.30,247.60 441.10,247.60 441.90,247.60 442.70,247.60 443.50,247.60 444.30,247.60 445.10,247.60 445.90,247.60 446.70,247.60 447.50,247.60 448.30,247.60 449.10,247.60 449.90,247.60 450.70,247.60 451.50,247.60 452.30,247.60 453.10,247.60 453.90,247.60 454.70,247.60 455.50,247.60 456.30,247.60 457.10,247.60 457.90,247.60 458.70,247.60 459.50,247.60 460.30,247.60 461.10,247.60 461.90,247.60 462.70,247.60 463.50,247.60 464.30,247.60 465.10,247.60 465.40,247.60 31.50,247.60" fill="#4a87b0" />
<line x1="31.5" y1="247.6" x2="465.4" y2="247.6" stroke="#7d7d7d" stroke-width="0.5"/>
<text x="40.5" y="232.8" font-size="5.8" textLength="46.4" lengthAdjust="spacingAndGlyphs">(d) Air Temperature</text>
<rect x="31.50" y="224.40" width="433.90" height="45.60" fill="none" stroke="#000" stroke-width="0.45"/>
<line x1="29.50" y1="269.50" x2="31.50" y2="269.50" stroke="#000" stroke-width="0.5"/>
<text x="28.90" y="271.60" font-size="5.8" text-anchor="end" fill="#000"  textLength="10.76" lengthAdjust="spacingAndGlyphs">−20</text>
<line x1="29.50" y1="247.60" x2="31.50" y2="247.60" stroke="#000" stroke-width="0.5"/>
<text x="28.90" y="249.70" font-size="5.8" text-anchor="end" fill="#000" >0</text>
<line x1="29.50" y1="226.30" x2="31.50" y2="226.30" stroke="#000" stroke-width="0.5"/>
<text x="28.90" y="228.40" font-size="5.8" text-anchor="end" fill="#000" >20</text>
<line x1="38.44" y1="270.00" x2="38.44" y2="272.00" stroke="#000" stroke-width="0.5"/>
<text x="38.44" y="276.90" font-size="5.8" text-anchor="middle" fill="#000" >14</text>
<text x="38.44" y="282.90" font-size="5.8" text-anchor="middle" fill="#000" >Feb</text>
<text x="38.44" y="288.90" font-size="5.8" text-anchor="middle" fill="#000" >2023</text>
<line x1="62.74" y1="270.00" x2="62.74" y2="272.00" stroke="#000" stroke-width="0.5"/>
<text x="62.74" y="276.90" font-size="5.8" text-anchor="middle" fill="#000" >21</text>
<line x1="90.51" y1="270.00" x2="90.51" y2="272.00" stroke="#000" stroke-width="0.5"/>
<text x="90.51" y="276.90" font-size="5.8" text-anchor="middle" fill="#000" >1</text>
<text x="90.51" y="282.90" font-size="5.8" text-anchor="middle" fill="#000" >Mar</text>
<line x1="114.80" y1="270.00" x2="114.80" y2="272.00" stroke="#000" stroke-width="0.5"/>
<text x="114.80" y="276.90" font-size="5.8" text-anchor="middle" fill="#000" >8</text>
<line x1="132.16" y1="270.00" x2="132.16" y2="272.00" stroke="#000" stroke-width="0.5"/>
<text x="132.16" y="276.90" font-size="5.8" text-anchor="middle" fill="#000" >13</text>
<line x1="142.57" y1="270.00" x2="142.57" y2="272.00" stroke="#000" stroke-width="0.5"/>
<text x="142.57" y="276.90" font-size="5.8" text-anchor="middle" fill="#000" >16</text>
<line x1="163.40" y1="270.00" x2="163.40" y2="272.00" stroke="#000" stroke-width="0.5"/>
<text x="163.40" y="276.90" font-size="5.8" text-anchor="middle" fill="#000" >22</text>
<line x1="187.69" y1="270.00" x2="187.69" y2="272.00" stroke="#000" stroke-width="0.5"/>
<text x="187.69" y="276.90" font-size="5.8" text-anchor="middle" fill="#000" >29</text>
<line x1="211.99" y1="270.00" x2="211.99" y2="272.00" stroke="#000" stroke-width="0.5"/>
<text x="211.99" y="276.90" font-size="5.8" text-anchor="middle" fill="#000" >5</text>
<text x="211.99" y="282.90" font-size="5.8" text-anchor="middle" fill="#000" >Apr</text>
<line x1="229.35" y1="270.00" x2="229.35" y2="272.00" stroke="#000" stroke-width="0.5"/>
<text x="229.35" y="276.90" font-size="5.8" text-anchor="middle" fill="#000" >10</text>
<line x1="236.29" y1="270.00" x2="236.29" y2="272.00" stroke="#000" stroke-width="0.5"/>
<text x="236.29" y="276.90" font-size="5.8" text-anchor="middle" fill="#000" >12</text>
<line x1="260.59" y1="270.00" x2="260.59" y2="272.00" stroke="#000" stroke-width="0.5"/>
<text x="260.59" y="276.90" font-size="5.8" text-anchor="middle" fill="#000" >19</text>
<line x1="277.94" y1="270.00" x2="277.94" y2="272.00" stroke="#000" stroke-width="0.5"/>
<text x="277.94" y="276.90" font-size="5.8" text-anchor="middle" fill="#000" >24</text>
<line x1="284.88" y1="270.00" x2="284.88" y2="272.00" stroke="#000" stroke-width="0.5"/>
<text x="284.88" y="276.90" font-size="5.8" text-anchor="middle" fill="#000" >26</text>
<line x1="295.30" y1="270.00" x2="295.30" y2="272.00" stroke="#000" stroke-width="0.5"/>
<text x="295.30" y="276.90" font-size="5.8" text-anchor="middle" fill="#000" >29</text>
<line x1="302.24" y1="270.00" x2="302.24" y2="272.00" stroke="#000" stroke-width="0.5"/>
<text x="302.24" y="276.90" font-size="5.8" text-anchor="middle" fill="#000" >1</text>
<text x="302.24" y="282.90" font-size="5.8" text-anchor="middle" fill="#000" >May</text>
<line x1="309.18" y1="270.00" x2="309.18" y2="272.00" stroke="#000" stroke-width="0.5"/>
<text x="309.18" y="276.90" font-size="5.8" text-anchor="middle" fill="#000" >3</text>
<line x1="316.12" y1="270.00" x2="316.12" y2="272.00" stroke="#000" stroke-width="0.5"/>
<text x="316.12" y="276.90" font-size="5.8" text-anchor="middle" fill="#000" >5</text>
<line x1="326.54" y1="270.00" x2="326.54" y2="272.00" stroke="#000" stroke-width="0.5"/>
<text x="326.54" y="276.90" font-size="5.8" text-anchor="middle" fill="#000" >8</text>
<line x1="336.95" y1="270.00" x2="336.95" y2="272.00" stroke="#000" stroke-width="0.5"/>
<text x="336.95" y="276.90" font-size="5.8" text-anchor="middle" fill="#000" >11</text>
<line x1="350.83" y1="270.00" x2="350.83" y2="272.00" stroke="#000" stroke-width="0.5"/>
<text x="350.83" y="276.90" font-size="5.8" text-anchor="middle" fill="#000" >15</text>
<line x1="357.77" y1="270.00" x2="357.77" y2="272.00" stroke="#000" stroke-width="0.5"/>
<text x="357.77" y="276.90" font-size="5.8" text-anchor="middle" fill="#000" >17</text>
<line x1="364.72" y1="270.00" x2="364.72" y2="272.00" stroke="#000" stroke-width="0.5"/>
<text x="364.72" y="276.90" font-size="5.8" text-anchor="middle" fill="#000" >19</text>
<line x1="375.13" y1="270.00" x2="375.13" y2="272.00" stroke="#000" stroke-width="0.5"/>
<text x="375.13" y="276.90" font-size="5.8" text-anchor="middle" fill="#000" >22</text>
<line x1="382.07" y1="270.00" x2="382.07" y2="272.00" stroke="#000" stroke-width="0.5"/>
<text x="382.07" y="276.90" font-size="5.8" text-anchor="middle" fill="#000" >24</text>
<line x1="389.01" y1="270.00" x2="389.01" y2="272.00" stroke="#000" stroke-width="0.5"/>
<text x="389.01" y="276.90" font-size="5.8" text-anchor="middle" fill="#000" >26</text>
<line x1="399.43" y1="270.00" x2="399.43" y2="272.00" stroke="#000" stroke-width="0.5"/>
<text x="399.43" y="276.90" font-size="5.8" text-anchor="middle" fill="#000" >29</text>
<line x1="406.37" y1="270.00" x2="406.37" y2="272.00" stroke="#000" stroke-width="0.5"/>
<text x="406.37" y="276.90" font-size="5.8" text-anchor="middle" fill="#000" >31</text>
<line x1="413.31" y1="270.00" x2="413.31" y2="272.00" stroke="#000" stroke-width="0.5"/>
<text x="413.31" y="276.90" font-size="5.8" text-anchor="middle" fill="#000" >2</text>
<text x="413.31" y="282.90" font-size="5.8" text-anchor="middle" fill="#000" >Jun</text>
<line x1="423.72" y1="270.00" x2="423.72" y2="272.00" stroke="#000" stroke-width="0.5"/>
<text x="423.72" y="276.90" font-size="5.8" text-anchor="middle" fill="#000" >5</text>
<line x1="430.67" y1="270.00" x2="430.67" y2="272.00" stroke="#000" stroke-width="0.5"/>
<text x="430.67" y="276.90" font-size="5.8" text-anchor="middle" fill="#000" >7</text>
<line x1="437.61" y1="270.00" x2="437.61" y2="272.00" stroke="#000" stroke-width="0.5"/>
<text x="437.61" y="276.90" font-size="5.8" text-anchor="middle" fill="#000" >9</text>
<line x1="448.02" y1="270.00" x2="448.02" y2="272.00" stroke="#000" stroke-width="0.5"/>
<text x="448.02" y="276.90" font-size="5.8" text-anchor="middle" fill="#000" >12</text>
<line x1="454.96" y1="270.00" x2="454.96" y2="272.00" stroke="#000" stroke-width="0.5"/>
<text x="454.96" y="276.90" font-size="5.8" text-anchor="middle" fill="#000" >14</text>
<line x1="461.90" y1="270.00" x2="461.90" y2="272.00" stroke="#000" stroke-width="0.5"/>
<text x="461.90" y="276.90" font-size="5.8" text-anchor="middle" fill="#000" >16</text>
<text transform="translate(15.2,247.20) rotate(-90)" font-size="5.8" text-anchor="middle">[°C]</text>
<rect x="31.5" y="291.0" width="343.80" height="45.30" fill="#e9e9e9"/>
<polygon points="31.50,334.20 140.00,334.00 205.00,333.60 216.00,332.90 229.00,331.20 236.00,333.60 250.00,333.90 279.00,333.50 284.60,334.00 295.00,310.00 302.20,325.50 309.40,325.50 315.80,310.00 319.00,307.60 326.20,303.60 336.40,329.20 346.00,330.00 356.40,331.30 374.80,318.80 379.60,326.80 386.80,306.80 398.80,309.20 405.60,293.20 410.90,326.00 413.60,326.70 423.10,322.70 437.40,313.10 443.50,323.30 450.30,326.00 457.10,326.70 461.20,320.20 462.30,329.50 465.40,328.80 465.40,334.40 31.50,334.40" fill="rgb(125,206,225)" fill-opacity="0.7"/>
<line x1="31.5" y1="334.5" x2="375" y2="334.5" stroke="#a9c6de" stroke-width="0.8"/>
<polygon points="371.00,334.30 373.20,334.00 377.00,330.00 380.00,325.00 383.60,317.20 386.40,322.00 389.50,328.50 394.00,328.40 400.00,330.10 410.90,329.50 423.10,330.10 427.20,328.80 439.50,326.70 443.50,322.70 446.90,324.70 451.70,327.40 458.50,327.40 465.40,328.40 465.40,334.40 371.00,334.40" fill="rgb(74,126,194)" fill-opacity="0.7"/>
<line x1="271.00" y1="291.00" x2="271.00" y2="336.30" stroke="#808080" stroke-width="0.5" stroke-dasharray="1.2,1.2"/>
<line x1="284.88" y1="291.00" x2="284.88" y2="336.30" stroke="#808080" stroke-width="0.5" stroke-dasharray="1.2,1.2"/>
<line x1="319.59" y1="291.00" x2="319.59" y2="336.30" stroke="#808080" stroke-width="0.5" stroke-dasharray="1.2,1.2"/>
<polyline points="31.50,326.40 100.00,326.00 120.00,325.60 135.00,324.20 140.00,323.60 171.20,321.70 188.00,319.30 200.00,318.00 236.00,316.90 248.00,314.70 260.00,314.90 271.00,314.80 287.00,313.70 322.20,313.20 327.00,314.80 331.00,315.50 335.00,313.70 354.00,312.90 375.00,313.30 386.00,314.50 397.00,315.80 404.00,317.20 413.60,319.30 427.20,322.70 440.80,326.50 454.40,330.10 465.40,332.60" fill="none" stroke="#333" stroke-width="0.8" />
<circle cx="38.4" cy="326" r="1.5" fill="#fff" stroke="#111" stroke-width="0.6"/>
<circle cx="62.9" cy="327" r="1.5" fill="#fff" stroke="#111" stroke-width="0.6"/>
<circle cx="90.7" cy="327" r="1.5" fill="#fff" stroke="#111" stroke-width="0.6"/>
<circle cx="114.4" cy="326" r="1.5" fill="#fff" stroke="#111" stroke-width="0.6"/>
<circle cx="131.9" cy="325" r="1.5" fill="#fff" stroke="#111" stroke-width="0.6"/>
<circle cx="142.4" cy="325.3" r="1.5" fill="#fff" stroke="#111" stroke-width="0.6"/>
<circle cx="163.3" cy="326" r="1.5" fill="#fff" stroke="#111" stroke-width="0.6"/>
<circle cx="187.5" cy="324" r="1.5" fill="#fff" stroke="#111" stroke-width="0.6"/>
<circle cx="211.5" cy="323.1" r="1.5" fill="#fff" stroke="#111" stroke-width="0.6"/>
<circle cx="236" cy="323.1" r="1.5" fill="#fff" stroke="#111" stroke-width="0.6"/>
<circle cx="260.6" cy="319.1" r="1.5" fill="#fff" stroke="#111" stroke-width="0.6"/>
<circle cx="284.6" cy="318.5" r="1.5" fill="#fff" stroke="#111" stroke-width="0.6"/>
<circle cx="295.3" cy="322" r="1.5" fill="#fff" stroke="#111" stroke-width="0.6"/>
<circle cx="302.2" cy="319.6" r="1.5" fill="#fff" stroke="#111" stroke-width="0.6"/>
<circle cx="309.1" cy="317.5" r="1.5" fill="#fff" stroke="#111" stroke-width="0.6"/>
<circle cx="315.8" cy="316.9" r="1.5" fill="#fff" stroke="#111" stroke-width="0.6"/>
<circle cx="326.5" cy="319.8" r="1.5" fill="#fff" stroke="#111" stroke-width="0.6"/>
<circle cx="329.9" cy="317.5" r="1.5" fill="#fff" stroke="#111" stroke-width="0.6"/>
<circle cx="336.4" cy="319.6" r="1.5" fill="#fff" stroke="#111" stroke-width="0.6"/>
<circle cx="340.4" cy="319.9" r="1.5" fill="#fff" stroke="#111" stroke-width="0.6"/>
<circle cx="350.5" cy="319" r="1.5" fill="#fff" stroke="#111" stroke-width="0.6"/>
<circle cx="357.5" cy="316.9" r="1.5" fill="#fff" stroke="#111" stroke-width="0.6"/>
<circle cx="364.4" cy="318" r="1.5" fill="#fff" stroke="#111" stroke-width="0.6"/>
<circle cx="375.1" cy="317.5" r="1.5" fill="#fff" stroke="#111" stroke-width="0.6"/>
<circle cx="381.5" cy="317.7" r="1.5" fill="#fff" stroke="#111" stroke-width="0.6"/>
<circle cx="388.9" cy="319.1" r="1.5" fill="#fff" stroke="#111" stroke-width="0.6"/>
<circle cx="399.1" cy="321.5" r="1.5" fill="#fff" stroke="#111" stroke-width="0.6"/>
<circle cx="406.2" cy="322.6" r="1.5" fill="#fff" stroke="#111" stroke-width="0.6"/>
<circle cx="413.2" cy="323.6" r="1.5" fill="#fff" stroke="#111" stroke-width="0.6"/>
<circle cx="423.4" cy="326.3" r="1.5" fill="#fff" stroke="#111" stroke-width="0.6"/>
<circle cx="430.2" cy="326.7" r="1.5" fill="#fff" stroke="#111" stroke-width="0.6"/>
<circle cx="437.4" cy="326.3" r="1.5" fill="#fff" stroke="#111" stroke-width="0.6"/>
<circle cx="447.6" cy="329" r="1.5" fill="#fff" stroke="#111" stroke-width="0.6"/>
<circle cx="454.8" cy="330.5" r="1.5" fill="#fff" stroke="#111" stroke-width="0.6"/>
<circle cx="461.6" cy="332.9" r="1.5" fill="#fff" stroke="#111" stroke-width="0.6"/>
<text x="40.8" y="299.4" font-size="5.8" textLength="94.7" lengthAdjust="spacingAndGlyphs">(e) Total Water Content, Runoff, SWE</text>
<rect x="33.6" y="303.0" width="92" height="20" rx="1" fill="#fff" fill-opacity="0.6" stroke="#d0d0d0" stroke-width="0.5"/>
<rect x="35" y="305.2" width="10" height="3.6" fill="#e0e0e0"/>
<rect x="35" y="311.6" width="10" height="3.6" fill="rgb(125,206,225)" fill-opacity="0.64"/>
<rect x="35" y="318.0" width="10" height="3.6" fill="rgb(74,126,194)" fill-opacity="0.7"/>
<text x="48" y="309.0" font-size="5" textLength="75" lengthAdjust="spacingAndGlyphs">No runoff data (instrument failure)</text>
<text x="48" y="315.2" font-size="5">TWC</text>
<text x="48" y="321.6" font-size="5">Runoff</text>
<rect x="410.5" y="293.6" width="52.4" height="13.3" rx="1" fill="#fff" fill-opacity="0.8" stroke="#d0d0d0" stroke-width="0.5"/>
<line x1="412.5" y1="296.6" x2="421.6" y2="296.6" stroke="#333" stroke-width="0.8"/>
<circle cx="417" cy="303" r="1.5" fill="#fff" stroke="#111" stroke-width="0.6"/>
<text x="424.8" y="298.6" font-size="4.9" textLength="36.4" lengthAdjust="spacingAndGlyphs">SWE (automatic)</text>
<text x="424.8" y="304.7" font-size="4.9" textLength="30.2" lengthAdjust="spacingAndGlyphs">SWE (manual)</text>
<rect x="31.50" y="291.00" width="433.90" height="45.30" fill="none" stroke="#000" stroke-width="0.45"/>
<line x1="29.50" y1="334.40" x2="31.50" y2="334.40" stroke="#000" stroke-width="0.5"/>
<text x="28.90" y="336.50" font-size="5.8" text-anchor="end" fill="#000" >0</text>
<line x1="29.50" y1="312.90" x2="31.50" y2="312.90" stroke="#000" stroke-width="0.5"/>
<text x="28.90" y="315.00" font-size="5.8" text-anchor="end" fill="#000" >100</text>
<line x1="29.50" y1="291.00" x2="31.50" y2="291.00" stroke="#000" stroke-width="0.5"/>
<text x="28.90" y="293.10" font-size="5.8" text-anchor="end" fill="#000" >200</text>
<line x1="465.40" y1="336.30" x2="467.40" y2="336.30" stroke="#000" stroke-width="0.5"/>
<text x="468.20" y="338.40" font-size="5.8" text-anchor="start" fill="#000" >0</text>
<line x1="465.40" y1="321.30" x2="467.40" y2="321.30" stroke="#000" stroke-width="0.5"/>
<text x="468.20" y="323.40" font-size="5.8" text-anchor="start" fill="#000" >500</text>
<line x1="465.40" y1="306.10" x2="467.40" y2="306.10" stroke="#000" stroke-width="0.5"/>
<text x="468.20" y="308.20" font-size="5.8" text-anchor="start" fill="#000" >1000</text>
<line x1="465.40" y1="291.00" x2="467.40" y2="291.00" stroke="#000" stroke-width="0.5"/>
<text x="468.20" y="293.10" font-size="5.8" text-anchor="start" fill="#000" >1500</text>
<line x1="38.44" y1="336.30" x2="38.44" y2="338.30" stroke="#000" stroke-width="0.5"/>
<text x="38.44" y="343.90" font-size="5.8" text-anchor="middle" fill="#000" >14</text>
<text x="38.44" y="349.90" font-size="5.8" text-anchor="middle" fill="#000" >Feb</text>
<text x="38.44" y="355.90" font-size="5.8" text-anchor="middle" fill="#000" >2023</text>
<line x1="62.74" y1="336.30" x2="62.74" y2="338.30" stroke="#000" stroke-width="0.5"/>
<text x="62.74" y="343.90" font-size="5.8" text-anchor="middle" fill="#000" >21</text>
<line x1="90.51" y1="336.30" x2="90.51" y2="338.30" stroke="#000" stroke-width="0.5"/>
<text x="90.51" y="343.90" font-size="5.8" text-anchor="middle" fill="#000" >1</text>
<text x="90.51" y="349.90" font-size="5.8" text-anchor="middle" fill="#000" >Mar</text>
<line x1="114.80" y1="336.30" x2="114.80" y2="338.30" stroke="#000" stroke-width="0.5"/>
<text x="114.80" y="343.90" font-size="5.8" text-anchor="middle" fill="#000" >8</text>
<line x1="132.16" y1="336.30" x2="132.16" y2="338.30" stroke="#000" stroke-width="0.5"/>
<text x="132.16" y="343.90" font-size="5.8" text-anchor="middle" fill="#000" >13</text>
<line x1="142.57" y1="336.30" x2="142.57" y2="338.30" stroke="#000" stroke-width="0.5"/>
<text x="142.57" y="343.90" font-size="5.8" text-anchor="middle" fill="#000" >16</text>
<line x1="163.40" y1="336.30" x2="163.40" y2="338.30" stroke="#000" stroke-width="0.5"/>
<text x="163.40" y="343.90" font-size="5.8" text-anchor="middle" fill="#000" >22</text>
<line x1="187.69" y1="336.30" x2="187.69" y2="338.30" stroke="#000" stroke-width="0.5"/>
<text x="187.69" y="343.90" font-size="5.8" text-anchor="middle" fill="#000" >29</text>
<line x1="211.99" y1="336.30" x2="211.99" y2="338.30" stroke="#000" stroke-width="0.5"/>
<text x="211.99" y="343.90" font-size="5.8" text-anchor="middle" fill="#000" >5</text>
<text x="211.99" y="349.90" font-size="5.8" text-anchor="middle" fill="#000" >Apr</text>
<line x1="229.35" y1="336.30" x2="229.35" y2="338.30" stroke="#000" stroke-width="0.5"/>
<text x="229.35" y="343.90" font-size="5.8" text-anchor="middle" fill="#000" >10</text>
<line x1="236.29" y1="336.30" x2="236.29" y2="338.30" stroke="#000" stroke-width="0.5"/>
<text x="236.29" y="343.90" font-size="5.8" text-anchor="middle" fill="#000" >12</text>
<line x1="260.59" y1="336.30" x2="260.59" y2="338.30" stroke="#000" stroke-width="0.5"/>
<text x="260.59" y="343.90" font-size="5.8" text-anchor="middle" fill="#000" >19</text>
<line x1="277.94" y1="336.30" x2="277.94" y2="338.30" stroke="#000" stroke-width="0.5"/>
<text x="277.94" y="343.90" font-size="5.8" text-anchor="middle" fill="#000" >24</text>
<line x1="284.88" y1="336.30" x2="284.88" y2="338.30" stroke="#000" stroke-width="0.5"/>
<text x="284.88" y="343.90" font-size="5.8" text-anchor="middle" fill="#000" >26</text>
<line x1="295.30" y1="336.30" x2="295.30" y2="338.30" stroke="#000" stroke-width="0.5"/>
<text x="295.30" y="343.90" font-size="5.8" text-anchor="middle" fill="#000" >29</text>
<line x1="302.24" y1="336.30" x2="302.24" y2="338.30" stroke="#000" stroke-width="0.5"/>
<text x="302.24" y="343.90" font-size="5.8" text-anchor="middle" fill="#000" >1</text>
<text x="302.24" y="349.90" font-size="5.8" text-anchor="middle" fill="#000" >May</text>
<line x1="309.18" y1="336.30" x2="309.18" y2="338.30" stroke="#000" stroke-width="0.5"/>
<text x="309.18" y="343.90" font-size="5.8" text-anchor="middle" fill="#000" >3</text>
<line x1="316.12" y1="336.30" x2="316.12" y2="338.30" stroke="#000" stroke-width="0.5"/>
<text x="316.12" y="343.90" font-size="5.8" text-anchor="middle" fill="#000" >5</text>
<line x1="326.54" y1="336.30" x2="326.54" y2="338.30" stroke="#000" stroke-width="0.5"/>
<text x="326.54" y="343.90" font-size="5.8" text-anchor="middle" fill="#000" >8</text>
<line x1="336.95" y1="336.30" x2="336.95" y2="338.30" stroke="#000" stroke-width="0.5"/>
<text x="336.95" y="343.90" font-size="5.8" text-anchor="middle" fill="#000" >11</text>
<line x1="350.83" y1="336.30" x2="350.83" y2="338.30" stroke="#000" stroke-width="0.5"/>
<text x="350.83" y="343.90" font-size="5.8" text-anchor="middle" fill="#000" >15</text>
<line x1="357.77" y1="336.30" x2="357.77" y2="338.30" stroke="#000" stroke-width="0.5"/>
<text x="357.77" y="343.90" font-size="5.8" text-anchor="middle" fill="#000" >17</text>
<line x1="364.72" y1="336.30" x2="364.72" y2="338.30" stroke="#000" stroke-width="0.5"/>
<text x="364.72" y="343.90" font-size="5.8" text-anchor="middle" fill="#000" >19</text>
<line x1="375.13" y1="336.30" x2="375.13" y2="338.30" stroke="#000" stroke-width="0.5"/>
<text x="375.13" y="343.90" font-size="5.8" text-anchor="middle" fill="#000" >22</text>
<line x1="382.07" y1="336.30" x2="382.07" y2="338.30" stroke="#000" stroke-width="0.5"/>
<text x="382.07" y="343.90" font-size="5.8" text-anchor="middle" fill="#000" >24</text>
<line x1="389.01" y1="336.30" x2="389.01" y2="338.30" stroke="#000" stroke-width="0.5"/>
<text x="389.01" y="343.90" font-size="5.8" text-anchor="middle" fill="#000" >26</text>
<line x1="399.43" y1="336.30" x2="399.43" y2="338.30" stroke="#000" stroke-width="0.5"/>
<text x="399.43" y="343.90" font-size="5.8" text-anchor="middle" fill="#000" >29</text>
<line x1="406.37" y1="336.30" x2="406.37" y2="338.30" stroke="#000" stroke-width="0.5"/>
<text x="406.37" y="343.90" font-size="5.8" text-anchor="middle" fill="#000" >31</text>
<line x1="413.31" y1="336.30" x2="413.31" y2="338.30" stroke="#000" stroke-width="0.5"/>
<text x="413.31" y="343.90" font-size="5.8" text-anchor="middle" fill="#000" >2</text>
<text x="413.31" y="349.90" font-size="5.8" text-anchor="middle" fill="#000" >Jun</text>
<line x1="423.72" y1="336.30" x2="423.72" y2="338.30" stroke="#000" stroke-width="0.5"/>
<text x="423.72" y="343.90" font-size="5.8" text-anchor="middle" fill="#000" >5</text>
<line x1="430.67" y1="336.30" x2="430.67" y2="338.30" stroke="#000" stroke-width="0.5"/>
<text x="430.67" y="343.90" font-size="5.8" text-anchor="middle" fill="#000" >7</text>
<line x1="437.61" y1="336.30" x2="437.61" y2="338.30" stroke="#000" stroke-width="0.5"/>
<text x="437.61" y="343.90" font-size="5.8" text-anchor="middle" fill="#000" >9</text>
<line x1="448.02" y1="336.30" x2="448.02" y2="338.30" stroke="#000" stroke-width="0.5"/>
<text x="448.02" y="343.90" font-size="5.8" text-anchor="middle" fill="#000" >12</text>
<line x1="454.96" y1="336.30" x2="454.96" y2="338.30" stroke="#000" stroke-width="0.5"/>
<text x="454.96" y="343.90" font-size="5.8" text-anchor="middle" fill="#000" >14</text>
<line x1="461.90" y1="336.30" x2="461.90" y2="338.30" stroke="#000" stroke-width="0.5"/>
<text x="461.90" y="343.90" font-size="5.8" text-anchor="middle" fill="#000" >16</text>
<text transform="translate(9.3,313.3) rotate(-90)" font-size="5.9" text-anchor="middle" textLength="35.4" lengthAdjust="spacingAndGlyphs">TWC, Runoff</text>
<text transform="translate(15.6,314.5) rotate(-90)" font-size="5.8" text-anchor="middle">[kg m<tspan font-size="4" dy="-1.8">−2</tspan><tspan dy="1.8">] or [mm]</tspan></text>
<text transform="translate(487.4,314.6) rotate(-90)" font-size="5.6" text-anchor="middle" textLength="11.8" lengthAdjust="spacingAndGlyphs">SWE</text>
<text transform="translate(493.6,313.5) rotate(-90)" font-size="5.8" text-anchor="middle">[kg m<tspan font-size="4" dy="-1.8">−2</tspan><tspan dy="1.8">] or [mm]</tspan></text>
<polygon points="38.40,390.30 62.40,382.90 90.00,381.00 114.40,392.00 142.40,380.00 146.00,384.30 164.00,372.30 187.50,372.80 212.00,388.40 236.00,384.30 260.00,381.90 284.80,393.20 302.30,377.60 309.00,375.90 316.00,379.50 326.70,366.80 330.30,368.50 337.50,378.80 350.70,387.90 358.00,384.80 364.40,379.50 382.00,387.90 399.60,377.30 406.20,365.20 412.80,375.40 430.40,381.30 437.00,371.80 448.00,373.20 453.50,374.70 461.70,360.00 461.70,400.90 38.40,400.90" fill="#d5c095" />
<polygon points="38.40,401.00 62.40,400.80 90.00,400.50 108.00,399.60 128.00,399.30 142.40,400.60 164.00,399.30 187.50,399.90 212.00,400.60 250.00,399.90 284.80,401.00 298.00,399.90 307.60,399.20 316.00,397.20 329.10,397.20 336.30,400.40 350.70,401.00 360.30,399.20 364.40,398.90 382.00,398.90 399.60,396.70 412.80,389.00 430.40,390.80 437.00,380.60 448.00,380.90 454.60,374.70 461.70,360.00 461.70,402.60 38.40,402.60" fill="rgb(131,37,15)" fill-opacity="0.55"/>
<polyline points="38.40,401.00 62.40,400.80 90.00,400.50 108.00,399.60 128.00,399.30 142.40,400.60 164.00,399.30 187.50,399.90 212.00,400.60 250.00,399.90 284.80,401.00 298.00,399.90 307.60,399.20 316.00,397.20 329.10,397.20 336.30,400.40 350.70,401.00 360.30,399.20 364.40,398.90 382.00,398.90 399.60,396.70 412.80,389.00" fill="none" stroke="rgb(150,70,40)" stroke-width="0.5" stroke-opacity="0.6"/>
<line x1="271.00" y1="357.80" x2="271.00" y2="402.60" stroke="#808080" stroke-width="0.5" stroke-dasharray="1.2,1.2"/>
<line x1="284.88" y1="357.80" x2="284.88" y2="402.60" stroke="#808080" stroke-width="0.5" stroke-dasharray="1.2,1.2"/>
<line x1="319.59" y1="357.80" x2="319.59" y2="402.60" stroke="#808080" stroke-width="0.5" stroke-dasharray="1.2,1.2"/>
<text x="40.8" y="366.2" font-size="5.8" textLength="51.1" lengthAdjust="spacingAndGlyphs">(f) Surface roughness</text>
<rect x="31.50" y="357.80" width="433.90" height="44.80" fill="none" stroke="#000" stroke-width="0.45"/>
<line x1="29.50" y1="400.80" x2="31.50" y2="400.80" stroke="#c9a061" stroke-width="0.5"/>
<text x="28.90" y="402.90" font-size="5.8" text-anchor="end" fill="#c9a061" >0</text>
<line x1="29.50" y1="380.50" x2="31.50" y2="380.50" stroke="#c9a061" stroke-width="0.5"/>
<text x="28.90" y="382.60" font-size="5.8" text-anchor="end" fill="#c9a061" >50</text>
<line x1="29.50" y1="360.20" x2="31.50" y2="360.20" stroke="#c9a061" stroke-width="0.5"/>
<text x="28.90" y="362.30" font-size="5.8" text-anchor="end" fill="#c9a061" >100</text>
<line x1="465.40" y1="402.70" x2="467.40" y2="402.70" stroke="#8b2a22" stroke-width="0.5"/>
<text x="468.20" y="404.80" font-size="5.8" text-anchor="start" fill="#8b2a22" >0</text>
<line x1="465.40" y1="395.90" x2="467.40" y2="395.90" stroke="#8b2a22" stroke-width="0.5"/>
<text x="468.20" y="398.00" font-size="5.8" text-anchor="start" fill="#8b2a22" >5</text>
<line x1="465.40" y1="389.10" x2="467.40" y2="389.10" stroke="#8b2a22" stroke-width="0.5"/>
<text x="468.20" y="391.20" font-size="5.8" text-anchor="start" fill="#8b2a22" >10</text>
<line x1="465.40" y1="382.30" x2="467.40" y2="382.30" stroke="#8b2a22" stroke-width="0.5"/>
<text x="468.20" y="384.40" font-size="5.8" text-anchor="start" fill="#8b2a22" >15</text>
<line x1="465.40" y1="375.50" x2="467.40" y2="375.50" stroke="#8b2a22" stroke-width="0.5"/>
<text x="468.20" y="377.60" font-size="5.8" text-anchor="start" fill="#8b2a22" >20</text>
<line x1="465.40" y1="368.70" x2="467.40" y2="368.70" stroke="#8b2a22" stroke-width="0.5"/>
<text x="468.20" y="370.80" font-size="5.8" text-anchor="start" fill="#8b2a22" >25</text>
<line x1="465.40" y1="361.90" x2="467.40" y2="361.90" stroke="#8b2a22" stroke-width="0.5"/>
<text x="468.20" y="364.00" font-size="5.8" text-anchor="start" fill="#8b2a22" >30</text>
<line x1="38.44" y1="402.60" x2="38.44" y2="404.60" stroke="#000" stroke-width="0.5"/>
<text x="38.44" y="410.20" font-size="5.8" text-anchor="middle" fill="#000" >14</text>
<text x="38.44" y="416.20" font-size="5.8" text-anchor="middle" fill="#000" >Feb</text>
<text x="38.44" y="422.20" font-size="5.8" text-anchor="middle" fill="#000" >2023</text>
<line x1="62.74" y1="402.60" x2="62.74" y2="404.60" stroke="#000" stroke-width="0.5"/>
<text x="62.74" y="410.20" font-size="5.8" text-anchor="middle" fill="#000" >21</text>
<line x1="90.51" y1="402.60" x2="90.51" y2="404.60" stroke="#000" stroke-width="0.5"/>
<text x="90.51" y="410.20" font-size="5.8" text-anchor="middle" fill="#000" >1</text>
<text x="90.51" y="416.20" font-size="5.8" text-anchor="middle" fill="#000" >Mar</text>
<line x1="114.80" y1="402.60" x2="114.80" y2="404.60" stroke="#000" stroke-width="0.5"/>
<text x="114.80" y="410.20" font-size="5.8" text-anchor="middle" fill="#000" >8</text>
<line x1="132.16" y1="402.60" x2="132.16" y2="404.60" stroke="#000" stroke-width="0.5"/>
<text x="132.16" y="410.20" font-size="5.8" text-anchor="middle" fill="#000" >13</text>
<line x1="142.57" y1="402.60" x2="142.57" y2="404.60" stroke="#000" stroke-width="0.5"/>
<text x="142.57" y="410.20" font-size="5.8" text-anchor="middle" fill="#000" >16</text>
<line x1="163.40" y1="402.60" x2="163.40" y2="404.60" stroke="#000" stroke-width="0.5"/>
<text x="163.40" y="410.20" font-size="5.8" text-anchor="middle" fill="#000" >22</text>
<line x1="187.69" y1="402.60" x2="187.69" y2="404.60" stroke="#000" stroke-width="0.5"/>
<text x="187.69" y="410.20" font-size="5.8" text-anchor="middle" fill="#000" >29</text>
<line x1="211.99" y1="402.60" x2="211.99" y2="404.60" stroke="#000" stroke-width="0.5"/>
<text x="211.99" y="410.20" font-size="5.8" text-anchor="middle" fill="#000" >5</text>
<text x="211.99" y="416.20" font-size="5.8" text-anchor="middle" fill="#000" >Apr</text>
<line x1="229.35" y1="402.60" x2="229.35" y2="404.60" stroke="#000" stroke-width="0.5"/>
<text x="229.35" y="410.20" font-size="5.8" text-anchor="middle" fill="#000" >10</text>
<line x1="236.29" y1="402.60" x2="236.29" y2="404.60" stroke="#000" stroke-width="0.5"/>
<text x="236.29" y="410.20" font-size="5.8" text-anchor="middle" fill="#000" >12</text>
<line x1="260.59" y1="402.60" x2="260.59" y2="404.60" stroke="#000" stroke-width="0.5"/>
<text x="260.59" y="410.20" font-size="5.8" text-anchor="middle" fill="#000" >19</text>
<line x1="277.94" y1="402.60" x2="277.94" y2="404.60" stroke="#000" stroke-width="0.5"/>
<text x="277.94" y="410.20" font-size="5.8" text-anchor="middle" fill="#000" >24</text>
<line x1="284.88" y1="402.60" x2="284.88" y2="404.60" stroke="#000" stroke-width="0.5"/>
<text x="284.88" y="410.20" font-size="5.8" text-anchor="middle" fill="#000" >26</text>
<line x1="295.30" y1="402.60" x2="295.30" y2="404.60" stroke="#000" stroke-width="0.5"/>
<text x="295.30" y="410.20" font-size="5.8" text-anchor="middle" fill="#000" >29</text>
<line x1="302.24" y1="402.60" x2="302.24" y2="404.60" stroke="#000" stroke-width="0.5"/>
<text x="302.24" y="410.20" font-size="5.8" text-anchor="middle" fill="#000" >1</text>
<text x="302.24" y="416.20" font-size="5.8" text-anchor="middle" fill="#000" >May</text>
<line x1="309.18" y1="402.60" x2="309.18" y2="404.60" stroke="#000" stroke-width="0.5"/>
<text x="309.18" y="410.20" font-size="5.8" text-anchor="middle" fill="#000" >3</text>
<line x1="316.12" y1="402.60" x2="316.12" y2="404.60" stroke="#000" stroke-width="0.5"/>
<text x="316.12" y="410.20" font-size="5.8" text-anchor="middle" fill="#000" >5</text>
<line x1="326.54" y1="402.60" x2="326.54" y2="404.60" stroke="#000" stroke-width="0.5"/>
<text x="326.54" y="410.20" font-size="5.8" text-anchor="middle" fill="#000" >8</text>
<line x1="336.95" y1="402.60" x2="336.95" y2="404.60" stroke="#000" stroke-width="0.5"/>
<text x="336.95" y="410.20" font-size="5.8" text-anchor="middle" fill="#000" >11</text>
<line x1="350.83" y1="402.60" x2="350.83" y2="404.60" stroke="#000" stroke-width="0.5"/>
<text x="350.83" y="410.20" font-size="5.8" text-anchor="middle" fill="#000" >15</text>
<line x1="357.77" y1="402.60" x2="357.77" y2="404.60" stroke="#000" stroke-width="0.5"/>
<text x="357.77" y="410.20" font-size="5.8" text-anchor="middle" fill="#000" >17</text>
<line x1="364.72" y1="402.60" x2="364.72" y2="404.60" stroke="#000" stroke-width="0.5"/>
<text x="364.72" y="410.20" font-size="5.8" text-anchor="middle" fill="#000" >19</text>
<line x1="375.13" y1="402.60" x2="375.13" y2="404.60" stroke="#000" stroke-width="0.5"/>
<text x="375.13" y="410.20" font-size="5.8" text-anchor="middle" fill="#000" >22</text>
<line x1="382.07" y1="402.60" x2="382.07" y2="404.60" stroke="#000" stroke-width="0.5"/>
<text x="382.07" y="410.20" font-size="5.8" text-anchor="middle" fill="#000" >24</text>
<line x1="389.01" y1="402.60" x2="389.01" y2="404.60" stroke="#000" stroke-width="0.5"/>
<text x="389.01" y="410.20" font-size="5.8" text-anchor="middle" fill="#000" >26</text>
<line x1="399.43" y1="402.60" x2="399.43" y2="404.60" stroke="#000" stroke-width="0.5"/>
<text x="399.43" y="410.20" font-size="5.8" text-anchor="middle" fill="#000" >29</text>
<line x1="406.37" y1="402.60" x2="406.37" y2="404.60" stroke="#000" stroke-width="0.5"/>
<text x="406.37" y="410.20" font-size="5.8" text-anchor="middle" fill="#000" >31</text>
<line x1="413.31" y1="402.60" x2="413.31" y2="404.60" stroke="#000" stroke-width="0.5"/>
<text x="413.31" y="410.20" font-size="5.8" text-anchor="middle" fill="#000" >2</text>
<text x="413.31" y="416.20" font-size="5.8" text-anchor="middle" fill="#000" >Jun</text>
<line x1="423.72" y1="402.60" x2="423.72" y2="404.60" stroke="#000" stroke-width="0.5"/>
<text x="423.72" y="410.20" font-size="5.8" text-anchor="middle" fill="#000" >5</text>
<line x1="430.67" y1="402.60" x2="430.67" y2="404.60" stroke="#000" stroke-width="0.5"/>
<text x="430.67" y="410.20" font-size="5.8" text-anchor="middle" fill="#000" >7</text>
<line x1="437.61" y1="402.60" x2="437.61" y2="404.60" stroke="#000" stroke-width="0.5"/>
<text x="437.61" y="410.20" font-size="5.8" text-anchor="middle" fill="#000" >9</text>
<line x1="448.02" y1="402.60" x2="448.02" y2="404.60" stroke="#000" stroke-width="0.5"/>
<text x="448.02" y="410.20" font-size="5.8" text-anchor="middle" fill="#000" >12</text>
<line x1="454.96" y1="402.60" x2="454.96" y2="404.60" stroke="#000" stroke-width="0.5"/>
<text x="454.96" y="410.20" font-size="5.8" text-anchor="middle" fill="#000" >14</text>
<line x1="461.90" y1="402.60" x2="461.90" y2="404.60" stroke="#000" stroke-width="0.5"/>
<text x="461.90" y="410.20" font-size="5.8" text-anchor="middle" fill="#000" >16</text>
<text transform="translate(15.6,380) rotate(-90)" font-size="5.8" text-anchor="middle" fill="#c9a061">CL [mm]</text>
<text transform="translate(480.6,380) rotate(-90)" font-size="5.8" text-anchor="middle" fill="#8b2a22">RMSH [mm]</text>
</svg></body></html>
